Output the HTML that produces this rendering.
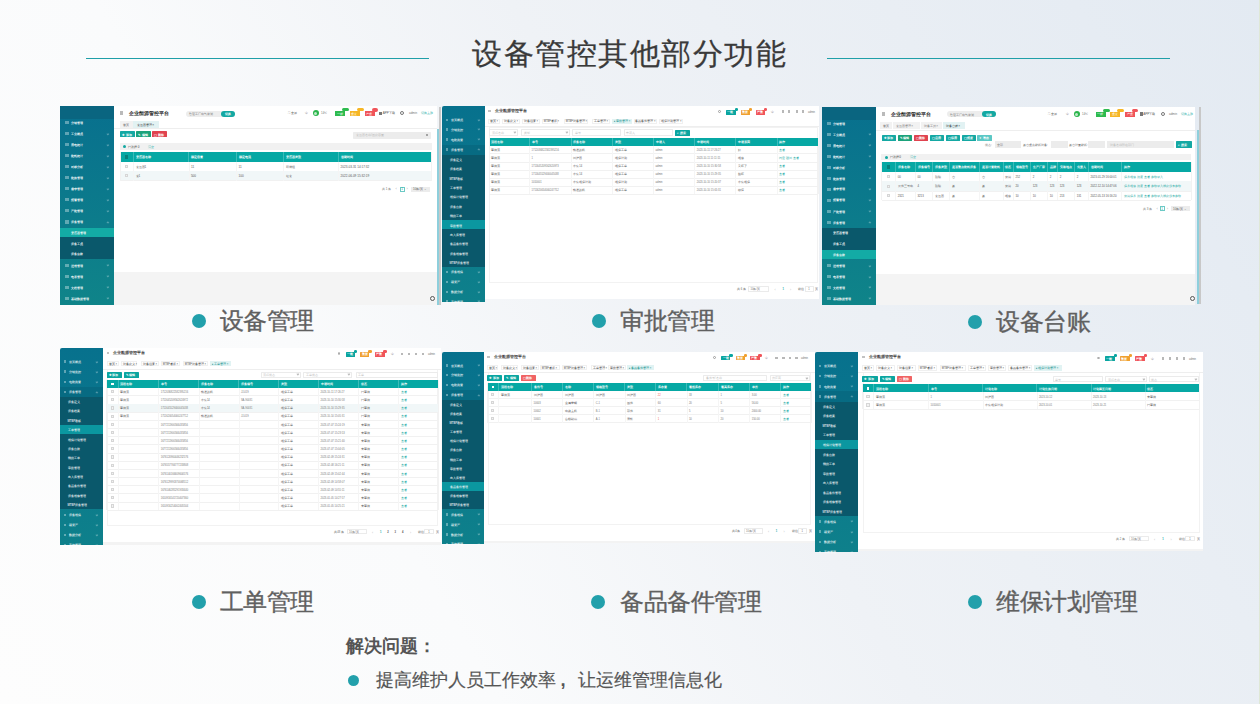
<!DOCTYPE html>
<html><head><meta charset="utf-8">
<style>
html,body{margin:0;padding:0;}
body{width:1260px;height:704px;overflow:hidden;position:relative;font-family:"Liberation Sans", sans-serif;
background:linear-gradient(60deg,#fdfdfd 0%,#fafbfc 30%,#eff2f6 55%,#e3eaf2 100%);}
div{position:absolute;box-sizing:border-box;}
.t{white-space:nowrap;}
</style></head><body>
<div style="left:1259.20px;top:0.00px;width:0.80px;height:704.00px;background:#dfe8d6;"></div>
<div class="t" style="left:472.00px;top:36.04px;font-size:29.6px;line-height:35.520px;color:#3a3a3a;font-weight:normal;letter-spacing:1.5px;-webkit-text-stroke:0.25px #3a3a3a;">设备管控其他部分功能</div>
<div style="left:86.00px;top:58.00px;width:343.00px;height:1.30px;background:#1f9fa8;"></div>
<div style="left:827.00px;top:58.00px;width:343.00px;height:1.30px;background:#1f9fa8;"></div>
<div style="left:191.90px;top:314.20px;width:14.00px;height:14.00px;background:#22a0ab;border-radius:50%;"></div>
<div class="t" style="left:219.50px;top:306.80px;font-size:24px;line-height:28.800px;color:#606060;font-weight:normal;letter-spacing:-0.45px;-webkit-text-stroke:0.35px #606060;">设备管理</div>
<div style="left:591.50px;top:314.20px;width:14.00px;height:14.00px;background:#22a0ab;border-radius:50%;"></div>
<div class="t" style="left:620.00px;top:306.80px;font-size:24px;line-height:28.800px;color:#606060;font-weight:normal;letter-spacing:-0.45px;-webkit-text-stroke:0.35px #606060;">审批管理</div>
<div style="left:968.30px;top:315.00px;width:14.00px;height:14.00px;background:#22a0ab;border-radius:50%;"></div>
<div class="t" style="left:996.00px;top:307.60px;font-size:24px;line-height:28.800px;color:#606060;font-weight:normal;letter-spacing:-0.45px;-webkit-text-stroke:0.35px #606060;">设备台账</div>
<div style="left:191.90px;top:595.00px;width:14.00px;height:14.00px;background:#22a0ab;border-radius:50%;"></div>
<div class="t" style="left:219.50px;top:587.60px;font-size:24px;line-height:28.800px;color:#606060;font-weight:normal;letter-spacing:-0.45px;-webkit-text-stroke:0.35px #606060;">工单管理</div>
<div style="left:591.20px;top:595.00px;width:14.00px;height:14.00px;background:#22a0ab;border-radius:50%;"></div>
<div class="t" style="left:620.00px;top:587.60px;font-size:24px;line-height:28.800px;color:#606060;font-weight:normal;letter-spacing:-0.45px;-webkit-text-stroke:0.35px #606060;">备品备件管理</div>
<div style="left:968.00px;top:595.00px;width:14.00px;height:14.00px;background:#22a0ab;border-radius:50%;"></div>
<div class="t" style="left:996.00px;top:587.60px;font-size:24px;line-height:28.800px;color:#606060;font-weight:normal;letter-spacing:-0.45px;-webkit-text-stroke:0.35px #606060;">维保计划管理</div>
<div class="t" style="left:345.50px;top:636.20px;font-size:18px;line-height:21.600px;color:#555;font-weight:bold;">解决问题：</div>
<div style="left:347.50px;top:675.00px;width:11.00px;height:11.00px;background:#22a0ab;border-radius:50%;"></div>
<div class="t" style="left:376.00px;top:669.02px;font-size:18.3px;line-height:21.960px;color:#555;font-weight:normal;-webkit-text-stroke:0.2px #555;">提高维护人员工作效率</div>
<div class="t" style="left:560.50px;top:669.02px;font-size:18.3px;line-height:21.960px;color:#555;font-weight:bold;">,</div>
<div class="t" style="left:577.50px;top:669.02px;font-size:18.3px;line-height:21.960px;color:#555;font-weight:normal;-webkit-text-stroke:0.2px #555;">让运维管理信息化</div>
<div style="left:114.00px;top:106.00px;width:323.00px;height:199.00px;background:#fff;"></div>
<div style="left:114.00px;top:271.70px;width:323.00px;height:33.30px;background:#f4f4f4;"></div>
<div style="left:60.00px;top:106.00px;width:54.00px;height:199.00px;background:linear-gradient(180deg,#08708e 0%,#0f8489 100%);"></div>
<div style="left:60.00px;top:106.00px;width:54.00px;height:13.30px;background:#0a6580;"></div>
<div style="left:60.00px;top:227.70px;width:54.00px;height:31.70px;background:#0a586b;"></div>
<div style="left:60.00px;top:227.70px;width:54.00px;height:9.50px;background:#13aba5;"></div>
<div style="left:65.40px;top:121.10px;width:3.20px;height:3.20px;background:rgba(255,255,255,0.35);"></div>
<div class="t" style="left:71.00px;top:122.00px;font-size:3.0px;line-height:3.600px;color:rgba(255,255,255,0.92);font-weight:bold;">分销管理</div>
<div style="left:65.40px;top:132.10px;width:3.20px;height:3.20px;background:rgba(255,255,255,0.35);"></div>
<div class="t" style="left:71.00px;top:133.00px;font-size:3.0px;line-height:3.600px;color:rgba(255,255,255,0.92);font-weight:bold;">工业概况</div>
<div style="left:107.10px;top:132.50px;width:1.80px;height:1.80px;background:transparent;border-right:0.5px solid rgba(255,255,255,0.3);border-bottom:0.5px solid rgba(255,255,255,0.3);transform:rotate(45deg);"></div>
<div style="left:65.40px;top:143.10px;width:3.20px;height:3.20px;background:rgba(255,255,255,0.35);"></div>
<div class="t" style="left:71.00px;top:144.00px;font-size:3.0px;line-height:3.600px;color:rgba(255,255,255,0.92);font-weight:bold;">用电统计</div>
<div style="left:107.10px;top:143.50px;width:1.80px;height:1.80px;background:transparent;border-right:0.5px solid rgba(255,255,255,0.3);border-bottom:0.5px solid rgba(255,255,255,0.3);transform:rotate(45deg);"></div>
<div style="left:65.40px;top:154.10px;width:3.20px;height:3.20px;background:rgba(255,255,255,0.35);"></div>
<div class="t" style="left:71.00px;top:155.00px;font-size:3.0px;line-height:3.600px;color:rgba(255,255,255,0.92);font-weight:bold;">能耗统计</div>
<div style="left:107.10px;top:154.50px;width:1.80px;height:1.80px;background:transparent;border-right:0.5px solid rgba(255,255,255,0.3);border-bottom:0.5px solid rgba(255,255,255,0.3);transform:rotate(45deg);"></div>
<div style="left:65.40px;top:165.10px;width:3.20px;height:3.20px;background:rgba(255,255,255,0.35);"></div>
<div class="t" style="left:71.00px;top:166.00px;font-size:3.0px;line-height:3.600px;color:rgba(255,255,255,0.92);font-weight:bold;">对标分析</div>
<div style="left:107.10px;top:165.50px;width:1.80px;height:1.80px;background:transparent;border-right:0.5px solid rgba(255,255,255,0.3);border-bottom:0.5px solid rgba(255,255,255,0.3);transform:rotate(45deg);"></div>
<div style="left:65.40px;top:176.10px;width:3.20px;height:3.20px;background:rgba(255,255,255,0.35);"></div>
<div class="t" style="left:71.00px;top:177.00px;font-size:3.0px;line-height:3.600px;color:rgba(255,255,255,0.92);font-weight:bold;">能效管理</div>
<div style="left:107.10px;top:176.50px;width:1.80px;height:1.80px;background:transparent;border-right:0.5px solid rgba(255,255,255,0.3);border-bottom:0.5px solid rgba(255,255,255,0.3);transform:rotate(45deg);"></div>
<div style="left:65.40px;top:187.10px;width:3.20px;height:3.20px;background:rgba(255,255,255,0.35);"></div>
<div class="t" style="left:71.00px;top:188.00px;font-size:3.0px;line-height:3.600px;color:rgba(255,255,255,0.92);font-weight:bold;">需求管理</div>
<div style="left:107.10px;top:187.50px;width:1.80px;height:1.80px;background:transparent;border-right:0.5px solid rgba(255,255,255,0.3);border-bottom:0.5px solid rgba(255,255,255,0.3);transform:rotate(45deg);"></div>
<div style="left:65.40px;top:198.10px;width:3.20px;height:3.20px;background:rgba(255,255,255,0.35);"></div>
<div class="t" style="left:71.00px;top:199.00px;font-size:3.0px;line-height:3.600px;color:rgba(255,255,255,0.92);font-weight:bold;">报警管理</div>
<div style="left:107.10px;top:198.50px;width:1.80px;height:1.80px;background:transparent;border-right:0.5px solid rgba(255,255,255,0.3);border-bottom:0.5px solid rgba(255,255,255,0.3);transform:rotate(45deg);"></div>
<div style="left:65.40px;top:209.10px;width:3.20px;height:3.20px;background:rgba(255,255,255,0.35);"></div>
<div class="t" style="left:71.00px;top:210.00px;font-size:3.0px;line-height:3.600px;color:rgba(255,255,255,0.92);font-weight:bold;">产能管理</div>
<div style="left:107.10px;top:209.50px;width:1.80px;height:1.80px;background:transparent;border-right:0.5px solid rgba(255,255,255,0.3);border-bottom:0.5px solid rgba(255,255,255,0.3);transform:rotate(45deg);"></div>
<div style="left:65.40px;top:220.40px;width:3.20px;height:3.20px;background:rgba(255,255,255,0.35);"></div>
<div class="t" style="left:71.00px;top:221.00px;font-size:3.0px;line-height:3.600px;color:rgba(255,255,255,0.92);font-weight:bold;">设备管理</div>
<div style="left:107.10px;top:221.60px;width:1.80px;height:1.80px;background:transparent;border-right:0.5px solid rgba(255,255,255,0.3);border-bottom:0.5px solid rgba(255,255,255,0.3);transform:rotate(-135deg);"></div>
<div class="t" style="left:70.50px;top:232.00px;font-size:3.0px;line-height:3.600px;color:rgba(255,255,255,0.92);font-weight:bold;">变压器管理</div>
<div class="t" style="left:70.50px;top:243.00px;font-size:3.0px;line-height:3.600px;color:rgba(255,255,255,0.92);font-weight:bold;">设备工况</div>
<div class="t" style="left:70.50px;top:253.00px;font-size:3.0px;line-height:3.600px;color:rgba(255,255,255,0.92);font-weight:bold;">设备台账</div>
<div style="left:65.40px;top:263.90px;width:3.20px;height:3.20px;background:rgba(255,255,255,0.35);"></div>
<div class="t" style="left:71.00px;top:265.00px;font-size:3.0px;line-height:3.600px;color:rgba(255,255,255,0.92);font-weight:bold;">运维管理</div>
<div style="left:107.10px;top:264.30px;width:1.80px;height:1.80px;background:transparent;border-right:0.5px solid rgba(255,255,255,0.3);border-bottom:0.5px solid rgba(255,255,255,0.3);transform:rotate(45deg);"></div>
<div style="left:65.40px;top:274.85px;width:3.20px;height:3.20px;background:rgba(255,255,255,0.35);"></div>
<div class="t" style="left:71.00px;top:276.00px;font-size:3.0px;line-height:3.600px;color:rgba(255,255,255,0.92);font-weight:bold;">电表管理</div>
<div style="left:107.10px;top:275.25px;width:1.80px;height:1.80px;background:transparent;border-right:0.5px solid rgba(255,255,255,0.3);border-bottom:0.5px solid rgba(255,255,255,0.3);transform:rotate(45deg);"></div>
<div style="left:65.40px;top:285.80px;width:3.20px;height:3.20px;background:rgba(255,255,255,0.35);"></div>
<div class="t" style="left:71.00px;top:287.00px;font-size:3.0px;line-height:3.600px;color:rgba(255,255,255,0.92);font-weight:bold;">文档管理</div>
<div style="left:107.10px;top:286.20px;width:1.80px;height:1.80px;background:transparent;border-right:0.5px solid rgba(255,255,255,0.3);border-bottom:0.5px solid rgba(255,255,255,0.3);transform:rotate(45deg);"></div>
<div style="left:65.40px;top:296.75px;width:3.20px;height:3.20px;background:rgba(255,255,255,0.35);"></div>
<div class="t" style="left:71.00px;top:298.00px;font-size:3.0px;line-height:3.600px;color:rgba(255,255,255,0.92);font-weight:bold;">基础数据管理</div>
<div style="left:107.10px;top:297.15px;width:1.80px;height:1.80px;background:transparent;border-right:0.5px solid rgba(255,255,255,0.3);border-bottom:0.5px solid rgba(255,255,255,0.3);transform:rotate(45deg);"></div>
<div style="left:119.75px;top:111.45px;width:3.50px;height:3.50px;background:#666;opacity:0.45;"></div>
<div class="t" style="left:129.20px;top:111.00px;font-size:4.7px;line-height:5.640px;color:#222;font-weight:bold;">企业能源管控平台</div>
<div style="left:186.00px;top:110.60px;width:49.00px;height:6.20px;background:#ededed;border-radius:3px;"></div>
<div class="t" style="left:189.00px;top:113.00px;font-size:3px;line-height:3.600px;color:#777;font-weight:normal;">智慧工厂电气监测</div>
<div style="left:220.50px;top:110.60px;width:14.50px;height:6.20px;background:#13a8a2;border-radius:3px;"></div>
<div class="t" style="left:225.00px;top:113.00px;font-size:3px;line-height:3.600px;color:#fff;font-weight:bold;">切换</div>
<div class="t" style="left:287.80px;top:112.00px;font-size:3px;line-height:3.600px;color:#555;font-weight:normal;">⛶ 全屏</div>
<div class="t" style="left:304.50px;top:112.00px;font-size:3.2px;line-height:3.840px;color:#777;font-weight:normal;">中</div>
<div style="left:312.90px;top:110.10px;width:6.00px;height:6.00px;background:#2ab54b;border-radius:50%;"></div>
<div style="left:314.40px;top:111.60px;width:3.00px;height:3.00px;background:#bfe9c8;border-radius:50%;"></div>
<div class="t" style="left:321.00px;top:112.00px;font-size:3px;line-height:3.600px;color:#777;font-weight:normal;">14℃</div>
<div style="left:335.00px;top:110.80px;width:10.00px;height:5.20px;background:#2dbb4f;"></div>
<div class="t" style="left:336.50px;top:113.00px;font-size:3px;line-height:3.600px;color:#fff;font-weight:normal;">一般</div>
<div style="left:342.00px;top:108.30px;width:7.00px;height:3.20px;background:#2dbb4f;border-radius:2px;"></div>
<div style="left:349.80px;top:110.80px;width:10.20px;height:5.20px;background:#f6b625;"></div>
<div class="t" style="left:351.00px;top:113.00px;font-size:3px;line-height:3.600px;color:#fff;font-weight:normal;">重要</div>
<div style="left:357.00px;top:108.30px;width:7.00px;height:3.20px;background:#f6b625;border-radius:2px;"></div>
<div style="left:364.50px;top:110.80px;width:10.10px;height:5.20px;background:#f0545a;"></div>
<div class="t" style="left:366.00px;top:113.00px;font-size:3px;line-height:3.600px;color:#fff;font-weight:normal;">严重</div>
<div style="left:372.00px;top:108.00px;width:5.50px;height:3.50px;background:#f0545a;border-radius:2px;"></div>
<div style="left:379.40px;top:111.50px;width:2.80px;height:3.50px;background:#777;"></div>
<div class="t" style="left:382.80px;top:112.00px;font-size:3px;line-height:3.600px;color:#555;font-weight:normal;">APP下载</div>
<div style="left:400.20px;top:111.20px;width:4.00px;height:4.00px;background:transparent;border:0.6px solid #777;border-radius:50%;"></div>
<div class="t" style="left:409.00px;top:112.00px;font-size:3px;line-height:3.600px;color:#777;font-weight:normal;">admin</div>
<div class="t" style="left:420.60px;top:112.00px;font-size:3px;line-height:3.600px;color:#27b0aa;font-weight:normal;">切换主题</div>
<div style="left:120.00px;top:121.30px;width:13.00px;height:7.10px;background:#f2f2f2;"></div>
<div class="t" style="left:122.50px;top:124.00px;font-size:3px;line-height:3.600px;color:#666;font-weight:normal;">首页</div>
<div style="left:133.00px;top:121.30px;width:26.00px;height:7.10px;background:#e2f2f3;"></div>
<div class="t" style="left:136.50px;top:124.00px;font-size:3px;line-height:3.600px;color:#333;font-weight:normal;">变压器管理 ×</div>
<div style="left:114.00px;top:128.40px;width:323.00px;height:0.50px;background:#eeeeee;"></div>
<div style="left:120.10px;top:131.40px;width:14.80px;height:6.00px;background:#14a8a3;border-radius:0.6px;"></div>
<div class="t" style="left:122.10px;top:134.00px;font-size:3px;line-height:3.600px;color:#fff;font-weight:bold;">✚ 添加</div>
<div style="left:136.10px;top:131.40px;width:14.70px;height:6.00px;background:#1ba27a;border-radius:0.6px;"></div>
<div class="t" style="left:138.10px;top:134.00px;font-size:3px;line-height:3.600px;color:#fff;font-weight:bold;">✎ 编辑</div>
<div style="left:152.10px;top:131.40px;width:14.70px;height:6.00px;background:#e0434f;border-radius:0.6px;"></div>
<div class="t" style="left:154.10px;top:134.00px;font-size:3px;line-height:3.600px;color:#fff;font-weight:bold;">▢ 删除</div>
<div style="left:353.00px;top:131.50px;width:78.00px;height:7.00px;background:#ececec;border-radius:0.8px;"></div>
<div class="t" style="left:356.00px;top:134.00px;font-size:3px;line-height:3.600px;color:#bbb;font-weight:normal;">变压器名称/固定容量</div>
<div style="left:426.00px;top:133.60px;width:2.40px;height:2.40px;background:transparent;border:0.5px solid rgba(0,0,0,0.45);border-radius:50%;"></div>
<div style="left:120.00px;top:143.30px;width:311.50px;height:6.60px;background:#f1f1f1;"></div>
<div style="left:123.30px;top:145.10px;width:3.20px;height:3.20px;background:#13a8a2;border-radius:50%;"></div>
<div class="t" style="left:128.00px;top:146.00px;font-size:3px;line-height:3.600px;color:#444;font-weight:normal;">已选择 0</div>
<div class="t" style="left:148.00px;top:146.00px;font-size:3px;line-height:3.600px;color:#35b5b0;font-weight:normal;">清空</div>
<div style="left:120.00px;top:152.10px;width:311.50px;height:9.70px;background:#06a8a4;"></div>
<div style="left:133.05px;top:152.10px;width:0.50px;height:9.70px;background:rgba(255,255,255,0.22);"></div>
<div style="left:188.45px;top:152.10px;width:0.50px;height:9.70px;background:rgba(255,255,255,0.22);"></div>
<div style="left:236.05px;top:152.10px;width:0.50px;height:9.70px;background:rgba(255,255,255,0.22);"></div>
<div style="left:283.05px;top:152.10px;width:0.50px;height:9.70px;background:rgba(255,255,255,0.22);"></div>
<div style="left:338.05px;top:152.10px;width:0.50px;height:9.70px;background:rgba(255,255,255,0.22);"></div>
<div style="left:124.95px;top:155.25px;width:3.40px;height:3.40px;background:#08807c;border:0.5px solid #08807c;"></div>
<div class="t" style="left:135.50px;top:156.00px;font-size:3px;line-height:3.600px;color:#fff;font-weight:bold;">变压器名称</div>
<div class="t" style="left:190.90px;top:156.00px;font-size:3px;line-height:3.600px;color:#fff;font-weight:bold;">额定容量</div>
<div class="t" style="left:238.50px;top:156.00px;font-size:3px;line-height:3.600px;color:#fff;font-weight:bold;">额定电流</div>
<div class="t" style="left:285.50px;top:156.00px;font-size:3px;line-height:3.600px;color:#fff;font-weight:bold;">变压器类型</div>
<div class="t" style="left:340.50px;top:156.00px;font-size:3px;line-height:3.600px;color:#fff;font-weight:bold;">创建时间</div>
<div style="left:120.00px;top:170.85px;width:311.50px;height:0.45px;background:#f1f1f1;"></div>
<div style="left:133.10px;top:161.80px;width:0.40px;height:9.40px;background:#f5f5f5;"></div>
<div style="left:188.50px;top:161.80px;width:0.40px;height:9.40px;background:#f5f5f5;"></div>
<div style="left:236.10px;top:161.80px;width:0.40px;height:9.40px;background:#f5f5f5;"></div>
<div style="left:283.10px;top:161.80px;width:0.40px;height:9.40px;background:#f5f5f5;"></div>
<div style="left:338.10px;top:161.80px;width:0.40px;height:9.40px;background:#f5f5f5;"></div>
<div style="left:125.05px;top:164.90px;width:3.20px;height:3.20px;background:#f2f2f2;border:0.5px solid #d6d6d6;"></div>
<div class="t" style="left:135.50px;top:166.00px;font-size:3.1px;line-height:3.720px;color:#555;font-weight:normal;">变压器1</div>
<div class="t" style="left:190.90px;top:166.00px;font-size:3.1px;line-height:3.720px;color:#555;font-weight:normal;">11</div>
<div class="t" style="left:238.50px;top:166.00px;font-size:3.1px;line-height:3.720px;color:#555;font-weight:normal;">11</div>
<div class="t" style="left:285.50px;top:166.00px;font-size:3.1px;line-height:3.720px;color:#555;font-weight:normal;">双绕组</div>
<div class="t" style="left:340.50px;top:166.00px;font-size:3.1px;line-height:3.720px;color:#555;font-weight:normal;">2023-03-31 14:17:32</div>
<div style="left:120.00px;top:171.20px;width:311.50px;height:9.40px;background:#f1f7f8;"></div>
<div style="left:120.00px;top:180.25px;width:311.50px;height:0.45px;background:#f1f1f1;"></div>
<div style="left:133.10px;top:171.20px;width:0.40px;height:9.40px;background:#f5f5f5;"></div>
<div style="left:188.50px;top:171.20px;width:0.40px;height:9.40px;background:#f5f5f5;"></div>
<div style="left:236.10px;top:171.20px;width:0.40px;height:9.40px;background:#f5f5f5;"></div>
<div style="left:283.10px;top:171.20px;width:0.40px;height:9.40px;background:#f5f5f5;"></div>
<div style="left:338.10px;top:171.20px;width:0.40px;height:9.40px;background:#f5f5f5;"></div>
<div style="left:125.05px;top:174.30px;width:3.20px;height:3.20px;background:#f2f2f2;border:0.5px solid #d6d6d6;"></div>
<div class="t" style="left:135.50px;top:175.00px;font-size:3.1px;line-height:3.720px;color:#555;font-weight:normal;">变1</div>
<div class="t" style="left:190.90px;top:175.00px;font-size:3.1px;line-height:3.720px;color:#555;font-weight:normal;">500</div>
<div class="t" style="left:238.50px;top:175.00px;font-size:3.1px;line-height:3.720px;color:#555;font-weight:normal;">100</div>
<div class="t" style="left:285.50px;top:175.00px;font-size:3.1px;line-height:3.720px;color:#555;font-weight:normal;">箱变</div>
<div class="t" style="left:340.50px;top:175.00px;font-size:3.1px;line-height:3.720px;color:#555;font-weight:normal;">2022-06-09 15:32:19</div>
<div style="left:119.80px;top:152.10px;width:0.45px;height:28.50px;background:#f2f2f2;"></div>
<div style="left:431.25px;top:152.10px;width:0.45px;height:28.50px;background:#f2f2f2;"></div>
<div class="t" style="left:382.00px;top:188.00px;font-size:3px;line-height:3.600px;color:#777;font-weight:normal;">共 1 条</div>
<div class="t" style="left:395.50px;top:187.00px;font-size:4px;line-height:4.800px;color:#aaa;font-weight:normal;">‹</div>
<div style="left:399.50px;top:186.50px;width:5.50px;height:5.00px;background:#fff;border:0.5px solid #6cc9c5;"></div>
<div class="t" style="left:401.30px;top:188.00px;font-size:3px;line-height:3.600px;color:#13a8a2;font-weight:normal;">1</div>
<div class="t" style="left:406.50px;top:187.00px;font-size:4px;line-height:4.800px;color:#aaa;font-weight:normal;">›</div>
<div style="left:411.00px;top:186.50px;width:19.00px;height:5.00px;background:#ececec;"></div>
<div class="t" style="left:413.00px;top:188.00px;font-size:3px;line-height:3.600px;color:#666;font-weight:normal;">10条/页 ⌄</div>
<div style="left:429.50px;top:295.70px;width:5.00px;height:5.00px;background:transparent;border:0.7px solid #555;border-radius:50%;"></div>
<div style="left:437.00px;top:128.90px;width:2.00px;height:176.10px;background:#8ecfdc;"></div>
<div style="left:439.00px;top:106.80px;width:2.00px;height:198.20px;background:#c8c8c8;"></div>
<div style="left:484.50px;top:106.00px;width:334.00px;height:193.00px;background:#fff;"></div>
<div style="left:442.00px;top:106.00px;width:42.50px;height:195.60px;background:linear-gradient(180deg,#07718d 0%,#0e808b 100%);border-top-left-radius:2px;"></div>
<div style="left:442.00px;top:154.80px;width:42.50px;height:111.90px;background:#0a586b;"></div>
<div style="left:442.00px;top:144.70px;width:42.50px;height:10.10px;background:rgba(0,40,60,0.12);"></div>
<div style="left:442.00px;top:220.20px;width:42.50px;height:9.00px;background:#0b97a0;"></div>
<div style="left:445.70px;top:118.50px;width:2.60px;height:2.60px;background:rgba(255,255,255,0.35);"></div>
<div class="t" style="left:451.00px;top:119.00px;font-size:2.75px;line-height:3.300px;color:rgba(255,255,255,0.8);font-weight:bold;">首页概况</div>
<div style="left:478.10px;top:118.60px;width:1.80px;height:1.80px;background:transparent;border-right:0.5px solid rgba(255,255,255,0.3);border-bottom:0.5px solid rgba(255,255,255,0.3);transform:rotate(45deg);"></div>
<div style="left:445.70px;top:128.20px;width:2.60px;height:2.60px;background:rgba(255,255,255,0.35);"></div>
<div class="t" style="left:451.00px;top:129.00px;font-size:2.75px;line-height:3.300px;color:rgba(255,255,255,0.8);font-weight:bold;">分销监控</div>
<div style="left:478.10px;top:128.30px;width:1.80px;height:1.80px;background:transparent;border-right:0.5px solid rgba(255,255,255,0.3);border-bottom:0.5px solid rgba(255,255,255,0.3);transform:rotate(45deg);"></div>
<div style="left:445.70px;top:138.20px;width:2.60px;height:2.60px;background:rgba(255,255,255,0.35);"></div>
<div class="t" style="left:451.00px;top:139.00px;font-size:2.75px;line-height:3.300px;color:rgba(255,255,255,0.8);font-weight:bold;">电能质量</div>
<div style="left:478.10px;top:138.30px;width:1.80px;height:1.80px;background:transparent;border-right:0.5px solid rgba(255,255,255,0.3);border-bottom:0.5px solid rgba(255,255,255,0.3);transform:rotate(45deg);"></div>
<div style="left:445.70px;top:148.40px;width:2.60px;height:2.60px;background:rgba(255,255,255,0.35);"></div>
<div class="t" style="left:451.00px;top:149.00px;font-size:2.75px;line-height:3.300px;color:rgba(255,255,255,0.8);font-weight:bold;">设备管理</div>
<div style="left:478.10px;top:149.30px;width:1.80px;height:1.80px;background:transparent;border-right:0.5px solid rgba(255,255,255,0.3);border-bottom:0.5px solid rgba(255,255,255,0.3);transform:rotate(-135deg);"></div>
<div class="t" style="left:449.50px;top:159.00px;font-size:2.75px;line-height:3.300px;color:rgba(255,255,255,0.8);font-weight:bold;">设备定义</div>
<div class="t" style="left:449.50px;top:168.00px;font-size:2.75px;line-height:3.300px;color:rgba(255,255,255,0.8);font-weight:bold;">设备档案</div>
<div class="t" style="left:449.50px;top:178.00px;font-size:2.75px;line-height:3.300px;color:rgba(255,255,255,0.8);font-weight:bold;">MTBF看板</div>
<div class="t" style="left:449.50px;top:187.00px;font-size:2.75px;line-height:3.300px;color:rgba(255,255,255,0.8);font-weight:bold;">工单管理</div>
<div class="t" style="left:449.50px;top:196.00px;font-size:2.75px;line-height:3.300px;color:rgba(255,255,255,0.8);font-weight:bold;">维保计划管理</div>
<div class="t" style="left:449.50px;top:206.00px;font-size:2.75px;line-height:3.300px;color:rgba(255,255,255,0.8);font-weight:bold;">设备台账</div>
<div class="t" style="left:449.50px;top:215.00px;font-size:2.75px;line-height:3.300px;color:rgba(255,255,255,0.8);font-weight:bold;">我的工单</div>
<div class="t" style="left:449.50px;top:225.00px;font-size:2.75px;line-height:3.300px;color:rgba(255,255,255,0.8);font-weight:bold;">审批管理</div>
<div class="t" style="left:449.50px;top:234.00px;font-size:2.75px;line-height:3.300px;color:rgba(255,255,255,0.8);font-weight:bold;">出入库管理</div>
<div class="t" style="left:449.50px;top:243.00px;font-size:2.75px;line-height:3.300px;color:rgba(255,255,255,0.8);font-weight:bold;">备品备件管理</div>
<div class="t" style="left:449.50px;top:253.00px;font-size:2.75px;line-height:3.300px;color:rgba(255,255,255,0.8);font-weight:bold;">设备维修管理</div>
<div class="t" style="left:449.50px;top:262.00px;font-size:2.75px;line-height:3.300px;color:rgba(255,255,255,0.8);font-weight:bold;">MTBF设备管理</div>
<div style="left:445.70px;top:270.70px;width:2.60px;height:2.60px;background:rgba(255,255,255,0.35);"></div>
<div class="t" style="left:451.00px;top:271.00px;font-size:2.75px;line-height:3.300px;color:rgba(255,255,255,0.8);font-weight:bold;">设备维保</div>
<div style="left:478.10px;top:270.80px;width:1.80px;height:1.80px;background:transparent;border-right:0.5px solid rgba(255,255,255,0.3);border-bottom:0.5px solid rgba(255,255,255,0.3);transform:rotate(45deg);"></div>
<div style="left:445.70px;top:280.90px;width:2.60px;height:2.60px;background:rgba(255,255,255,0.35);"></div>
<div class="t" style="left:451.00px;top:281.00px;font-size:2.75px;line-height:3.300px;color:rgba(255,255,255,0.8);font-weight:bold;">碳资产</div>
<div style="left:478.10px;top:281.00px;width:1.80px;height:1.80px;background:transparent;border-right:0.5px solid rgba(255,255,255,0.3);border-bottom:0.5px solid rgba(255,255,255,0.3);transform:rotate(45deg);"></div>
<div style="left:445.70px;top:290.90px;width:2.60px;height:2.60px;background:rgba(255,255,255,0.35);"></div>
<div class="t" style="left:451.00px;top:291.00px;font-size:2.75px;line-height:3.300px;color:rgba(255,255,255,0.8);font-weight:bold;">数据分析</div>
<div style="left:478.10px;top:291.00px;width:1.80px;height:1.80px;background:transparent;border-right:0.5px solid rgba(255,255,255,0.3);border-bottom:0.5px solid rgba(255,255,255,0.3);transform:rotate(45deg);"></div>
<div style="left:445.70px;top:300.30px;width:2.60px;height:2.60px;background:rgba(255,255,255,0.35);"></div>
<div class="t" style="left:451.00px;top:301.00px;font-size:2.75px;line-height:3.300px;color:rgba(255,255,255,0.8);font-weight:bold;">系统管理</div>
<div style="left:478.10px;top:300.40px;width:1.80px;height:1.80px;background:transparent;border-right:0.5px solid rgba(255,255,255,0.3);border-bottom:0.5px solid rgba(255,255,255,0.3);transform:rotate(45deg);"></div>
<div style="left:488.20px;top:109.60px;width:2.80px;height:2.80px;background:#777;opacity:0.45;"></div>
<div class="t" style="left:495.00px;top:109.00px;font-size:3.8px;line-height:4.560px;color:#333;font-weight:bold;">企业能源管控平台</div>
<div style="left:718.30px;top:109.90px;width:2.80px;height:2.80px;background:transparent;border:0.5px solid rgba(0,0,0,0.3);border-radius:50%;"></div>
<div style="left:726.00px;top:109.80px;width:9.90px;height:4.80px;background:#0aa5a0;border-radius:0.5px;"></div>
<div class="t" style="left:727.40px;top:111.00px;font-size:2.879999999999998px;line-height:3.456px;color:#fff;font-weight:bold;">一般</div>
<div style="left:734.70px;top:108.00px;width:3.60px;height:2.70px;background:#0aa5a0;border-radius:1.3px;"></div>
<div style="left:741.00px;top:109.80px;width:9.00px;height:4.80px;background:#f0a030;border-radius:0.5px;"></div>
<div class="t" style="left:742.40px;top:111.00px;font-size:2.879999999999998px;line-height:3.456px;color:#fff;font-weight:bold;">重要</div>
<div style="left:748.80px;top:108.00px;width:3.60px;height:2.70px;background:#f0a030;border-radius:1.3px;"></div>
<div style="left:755.70px;top:109.80px;width:9.10px;height:4.80px;background:#f0545a;border-radius:0.5px;"></div>
<div class="t" style="left:757.10px;top:111.00px;font-size:2.879999999999998px;line-height:3.456px;color:#fff;font-weight:bold;">严重</div>
<div style="left:763.60px;top:108.00px;width:3.60px;height:2.70px;background:#f0545a;border-radius:1.3px;"></div>
<div class="t" style="left:770.80px;top:111.00px;font-size:2.6px;line-height:3.120px;color:#777;font-weight:normal;">中</div>
<div style="left:781.70px;top:110.20px;width:2.60px;height:2.60px;background:rgba(0,0,0,0.28);"></div>
<div style="left:787.70px;top:110.20px;width:2.60px;height:2.60px;background:rgba(0,0,0,0.28);"></div>
<div style="left:795.70px;top:110.20px;width:2.60px;height:2.60px;background:rgba(0,0,0,0.28);"></div>
<div style="left:801.70px;top:110.20px;width:2.60px;height:2.60px;background:rgba(0,0,0,0.28);"></div>
<div class="t" style="left:808.00px;top:111.00px;font-size:2.6px;line-height:3.120px;color:#777;font-weight:normal;">admin</div>
<div style="left:488.00px;top:118.70px;width:12.00px;height:5.10px;background:#fff;border:0.5px solid #f0f0f0;"></div>
<div class="t" style="left:489.80px;top:120.00px;font-size:2.6px;line-height:3.120px;color:#444;font-weight:normal;">首页 ×</div>
<div style="left:502.00px;top:118.70px;width:18.00px;height:5.10px;background:#fff;border:0.5px solid #f0f0f0;"></div>
<div class="t" style="left:503.80px;top:120.00px;font-size:2.6px;line-height:3.120px;color:#444;font-weight:normal;">设备定义 ×</div>
<div style="left:522.00px;top:118.70px;width:18.00px;height:5.10px;background:#fff;border:0.5px solid #f0f0f0;"></div>
<div class="t" style="left:523.80px;top:120.00px;font-size:2.6px;line-height:3.120px;color:#444;font-weight:normal;">设备档案 ×</div>
<div style="left:542.00px;top:118.70px;width:16.00px;height:5.10px;background:#fff;border:0.5px solid #f0f0f0;"></div>
<div class="t" style="left:543.80px;top:120.00px;font-size:2.6px;line-height:3.120px;color:#444;font-weight:normal;">MTBF看板 ×</div>
<div style="left:564.00px;top:118.70px;width:24.00px;height:5.10px;background:#fff;border:0.5px solid #f0f0f0;"></div>
<div class="t" style="left:565.80px;top:120.00px;font-size:2.6px;line-height:3.120px;color:#444;font-weight:normal;">MTBF设备管理 ×</div>
<div style="left:592.00px;top:118.70px;width:18.00px;height:5.10px;background:#fff;border:0.5px solid #f0f0f0;"></div>
<div class="t" style="left:593.80px;top:120.00px;font-size:2.6px;line-height:3.120px;color:#444;font-weight:normal;">工单管理 ×</div>
<div style="left:612.00px;top:118.70px;width:20.00px;height:5.10px;background:#e1f3f3;"></div>
<div class="t" style="left:613.80px;top:120.00px;font-size:2.6px;line-height:3.120px;color:#0a8c88;font-weight:normal;">● 审批管理 ×</div>
<div style="left:633.50px;top:118.70px;width:23.80px;height:5.10px;background:#fff;border:0.5px solid #f0f0f0;"></div>
<div class="t" style="left:635.30px;top:120.00px;font-size:2.6px;line-height:3.120px;color:#444;font-weight:normal;">备品备件管理 ×</div>
<div style="left:659.40px;top:118.70px;width:24.10px;height:5.10px;background:#fff;border:0.5px solid #f0f0f0;"></div>
<div class="t" style="left:661.20px;top:120.00px;font-size:2.6px;line-height:3.120px;color:#444;font-weight:normal;">维保计划管理 ×</div>
<div style="left:484.50px;top:125.80px;width:334.00px;height:0.50px;background:#eeeeee;"></div>
<div style="left:488.50px;top:127.30px;width:329.80px;height:156.00px;background:#fff;border:0.5px solid #f2f2f2;"></div>
<div style="left:489.00px;top:129.40px;width:29.00px;height:6.30px;background:#fff;border:0.5px solid #ebebeb;border-radius:0.6px;"></div>
<div class="t" style="left:491.50px;top:132.00px;font-size:2.6px;line-height:3.120px;color:#bbb;font-weight:normal;">流程名称</div>
<div style="left:514.10px;top:131.05px;width:1.80px;height:1.80px;background:transparent;border-right:0.5px solid #bbb;border-bottom:0.5px solid #bbb;transform:rotate(45deg);"></div>
<div style="left:521.00px;top:129.40px;width:49.00px;height:6.30px;background:#fff;border:0.5px solid #ebebeb;border-radius:0.6px;"></div>
<div class="t" style="left:523.50px;top:132.00px;font-size:2.6px;line-height:3.120px;color:#bbb;font-weight:normal;">类型</div>
<div style="left:566.10px;top:131.05px;width:1.80px;height:1.80px;background:transparent;border-right:0.5px solid #bbb;border-bottom:0.5px solid #bbb;transform:rotate(45deg);"></div>
<div style="left:572.00px;top:129.40px;width:49.00px;height:6.30px;background:#fff;border:0.5px solid #ebebeb;border-radius:0.6px;"></div>
<div class="t" style="left:574.50px;top:132.00px;font-size:2.6px;line-height:3.120px;color:#bbb;font-weight:normal;">单号</div>
<div style="left:623.50px;top:129.40px;width:49.20px;height:6.30px;background:#fff;border:0.5px solid #ebebeb;border-radius:0.6px;"></div>
<div class="t" style="left:626.00px;top:132.00px;font-size:2.6px;line-height:3.120px;color:#bbb;font-weight:normal;">申请人</div>
<div style="left:675.00px;top:129.70px;width:15.00px;height:6.00px;background:#0aa5a0;border-radius:0.6px;"></div>
<div class="t" style="left:677.00px;top:132.00px;font-size:2.8px;line-height:3.360px;color:#fff;font-weight:bold;">⌕ 搜索</div>
<div style="left:488.80px;top:137.80px;width:329.20px;height:7.90px;background:#06a8a4;"></div>
<div style="left:529.05px;top:137.80px;width:0.50px;height:7.90px;background:rgba(255,255,255,0.22);"></div>
<div style="left:570.75px;top:137.80px;width:0.50px;height:7.90px;background:rgba(255,255,255,0.22);"></div>
<div style="left:612.35px;top:137.80px;width:0.50px;height:7.90px;background:rgba(255,255,255,0.22);"></div>
<div style="left:653.05px;top:137.80px;width:0.50px;height:7.90px;background:rgba(255,255,255,0.22);"></div>
<div style="left:694.35px;top:137.80px;width:0.50px;height:7.90px;background:rgba(255,255,255,0.22);"></div>
<div style="left:735.15px;top:137.80px;width:0.50px;height:7.90px;background:rgba(255,255,255,0.22);"></div>
<div style="left:776.75px;top:137.80px;width:0.50px;height:7.90px;background:rgba(255,255,255,0.22);"></div>
<div class="t" style="left:491.00px;top:141.00px;font-size:2.6px;line-height:3.120px;color:#fff;font-weight:bold;">流程名称</div>
<div class="t" style="left:531.50px;top:141.00px;font-size:2.6px;line-height:3.120px;color:#fff;font-weight:bold;">单号</div>
<div class="t" style="left:573.20px;top:141.00px;font-size:2.6px;line-height:3.120px;color:#fff;font-weight:bold;">设备名称</div>
<div class="t" style="left:614.80px;top:141.00px;font-size:2.6px;line-height:3.120px;color:#fff;font-weight:bold;">类型</div>
<div class="t" style="left:655.50px;top:141.00px;font-size:2.6px;line-height:3.120px;color:#fff;font-weight:bold;">申请人</div>
<div class="t" style="left:696.80px;top:141.00px;font-size:2.6px;line-height:3.120px;color:#fff;font-weight:bold;">申请时间</div>
<div class="t" style="left:737.60px;top:141.00px;font-size:2.6px;line-height:3.120px;color:#fff;font-weight:bold;">申请原因</div>
<div class="t" style="left:779.20px;top:141.00px;font-size:2.6px;line-height:3.120px;color:#fff;font-weight:bold;">操作</div>
<div style="left:488.80px;top:153.45px;width:329.20px;height:0.45px;background:#f1f1f1;"></div>
<div style="left:529.10px;top:145.70px;width:0.40px;height:8.10px;background:#f5f5f5;"></div>
<div style="left:570.80px;top:145.70px;width:0.40px;height:8.10px;background:#f5f5f5;"></div>
<div style="left:612.40px;top:145.70px;width:0.40px;height:8.10px;background:#f5f5f5;"></div>
<div style="left:653.10px;top:145.70px;width:0.40px;height:8.10px;background:#f5f5f5;"></div>
<div style="left:694.40px;top:145.70px;width:0.40px;height:8.10px;background:#f5f5f5;"></div>
<div style="left:735.20px;top:145.70px;width:0.40px;height:8.10px;background:#f5f5f5;"></div>
<div style="left:776.80px;top:145.70px;width:0.40px;height:8.10px;background:#f5f5f5;"></div>
<div class="t" style="left:491.00px;top:149.00px;font-size:2.6px;line-height:3.120px;color:#444;font-weight:normal;">审核流</div>
<div class="t" style="left:531.50px;top:149.00px;font-size:2.6px;line-height:3.120px;color:#777;font-weight:normal;">1712036822582395216</div>
<div class="t" style="left:573.20px;top:149.00px;font-size:2.6px;line-height:3.120px;color:#555;font-weight:normal;">輸送設机</div>
<div class="t" style="left:614.80px;top:149.00px;font-size:2.6px;line-height:3.120px;color:#555;font-weight:normal;">维保工单</div>
<div class="t" style="left:655.50px;top:149.00px;font-size:2.6px;line-height:3.120px;color:#777;font-weight:normal;">admin</div>
<div class="t" style="left:696.80px;top:149.00px;font-size:2.6px;line-height:3.120px;color:#777;font-weight:normal;">2023-10-11 17:26:27</div>
<div class="t" style="left:737.60px;top:149.00px;font-size:2.6px;line-height:3.120px;color:#555;font-weight:normal;">好</div>
<div class="t" style="left:779.20px;top:149.00px;font-size:2.6px;line-height:3.120px;color:#1aa9a3;font-weight:normal;">查看</div>
<div style="left:488.80px;top:161.55px;width:329.20px;height:0.45px;background:#f1f1f1;"></div>
<div style="left:529.10px;top:153.80px;width:0.40px;height:8.10px;background:#f5f5f5;"></div>
<div style="left:570.80px;top:153.80px;width:0.40px;height:8.10px;background:#f5f5f5;"></div>
<div style="left:612.40px;top:153.80px;width:0.40px;height:8.10px;background:#f5f5f5;"></div>
<div style="left:653.10px;top:153.80px;width:0.40px;height:8.10px;background:#f5f5f5;"></div>
<div style="left:694.40px;top:153.80px;width:0.40px;height:8.10px;background:#f5f5f5;"></div>
<div style="left:735.20px;top:153.80px;width:0.40px;height:8.10px;background:#f5f5f5;"></div>
<div style="left:776.80px;top:153.80px;width:0.40px;height:8.10px;background:#f5f5f5;"></div>
<div class="t" style="left:491.00px;top:157.00px;font-size:2.6px;line-height:3.120px;color:#444;font-weight:normal;">审核流</div>
<div class="t" style="left:531.50px;top:157.00px;font-size:2.6px;line-height:3.120px;color:#777;font-weight:normal;">1</div>
<div class="t" style="left:573.20px;top:157.00px;font-size:2.6px;line-height:3.120px;color:#555;font-weight:normal;">回护器</div>
<div class="t" style="left:614.80px;top:157.00px;font-size:2.6px;line-height:3.120px;color:#555;font-weight:normal;">维保计划</div>
<div class="t" style="left:655.50px;top:157.00px;font-size:2.6px;line-height:3.120px;color:#777;font-weight:normal;">admin</div>
<div class="t" style="left:696.80px;top:157.00px;font-size:2.6px;line-height:3.120px;color:#777;font-weight:normal;">2023-10-11 11:11:15</div>
<div class="t" style="left:737.60px;top:157.00px;font-size:2.6px;line-height:3.120px;color:#555;font-weight:normal;">维修</div>
<div class="t" style="left:779.20px;top:157.00px;font-size:2.6px;line-height:3.120px;color:#1aa9a3;font-weight:normal;">查看</div>
<div style="left:488.80px;top:169.65px;width:329.20px;height:0.45px;background:#f1f1f1;"></div>
<div style="left:529.10px;top:161.90px;width:0.40px;height:8.10px;background:#f5f5f5;"></div>
<div style="left:570.80px;top:161.90px;width:0.40px;height:8.10px;background:#f5f5f5;"></div>
<div style="left:612.40px;top:161.90px;width:0.40px;height:8.10px;background:#f5f5f5;"></div>
<div style="left:653.10px;top:161.90px;width:0.40px;height:8.10px;background:#f5f5f5;"></div>
<div style="left:694.40px;top:161.90px;width:0.40px;height:8.10px;background:#f5f5f5;"></div>
<div style="left:735.20px;top:161.90px;width:0.40px;height:8.10px;background:#f5f5f5;"></div>
<div style="left:776.80px;top:161.90px;width:0.40px;height:8.10px;background:#f5f5f5;"></div>
<div class="t" style="left:491.00px;top:165.00px;font-size:2.6px;line-height:3.120px;color:#444;font-weight:normal;">审核流</div>
<div class="t" style="left:531.50px;top:165.00px;font-size:2.6px;line-height:3.120px;color:#777;font-weight:normal;">1711645209562620973</div>
<div class="t" style="left:573.20px;top:165.00px;font-size:2.6px;line-height:3.120px;color:#555;font-weight:normal;">水泵14</div>
<div class="t" style="left:614.80px;top:165.00px;font-size:2.6px;line-height:3.120px;color:#555;font-weight:normal;">维保工单</div>
<div class="t" style="left:655.50px;top:165.00px;font-size:2.6px;line-height:3.120px;color:#777;font-weight:normal;">admin</div>
<div class="t" style="left:696.80px;top:165.00px;font-size:2.6px;line-height:3.120px;color:#777;font-weight:normal;">2023-10-10 15:30:58</div>
<div class="t" style="left:737.60px;top:165.00px;font-size:2.6px;line-height:3.120px;color:#555;font-weight:normal;">又坏了</div>
<div class="t" style="left:779.20px;top:165.00px;font-size:2.6px;line-height:3.120px;color:#1aa9a3;font-weight:normal;">查看</div>
<div style="left:488.80px;top:177.75px;width:329.20px;height:0.45px;background:#f1f1f1;"></div>
<div style="left:529.10px;top:170.00px;width:0.40px;height:8.10px;background:#f5f5f5;"></div>
<div style="left:570.80px;top:170.00px;width:0.40px;height:8.10px;background:#f5f5f5;"></div>
<div style="left:612.40px;top:170.00px;width:0.40px;height:8.10px;background:#f5f5f5;"></div>
<div style="left:653.10px;top:170.00px;width:0.40px;height:8.10px;background:#f5f5f5;"></div>
<div style="left:694.40px;top:170.00px;width:0.40px;height:8.10px;background:#f5f5f5;"></div>
<div style="left:735.20px;top:170.00px;width:0.40px;height:8.10px;background:#f5f5f5;"></div>
<div style="left:776.80px;top:170.00px;width:0.40px;height:8.10px;background:#f5f5f5;"></div>
<div class="t" style="left:491.00px;top:173.00px;font-size:2.6px;line-height:3.120px;color:#444;font-weight:normal;">审核流</div>
<div class="t" style="left:531.50px;top:173.00px;font-size:2.6px;line-height:3.120px;color:#777;font-weight:normal;">1711645529400045038</div>
<div class="t" style="left:573.20px;top:173.00px;font-size:2.6px;line-height:3.120px;color:#555;font-weight:normal;">水泵14</div>
<div class="t" style="left:614.80px;top:173.00px;font-size:2.6px;line-height:3.120px;color:#555;font-weight:normal;">维保工单</div>
<div class="t" style="left:655.50px;top:173.00px;font-size:2.6px;line-height:3.120px;color:#777;font-weight:normal;">admin</div>
<div class="t" style="left:696.80px;top:173.00px;font-size:2.6px;line-height:3.120px;color:#777;font-weight:normal;">2023-10-10 15:29:35</div>
<div class="t" style="left:737.60px;top:173.00px;font-size:2.6px;line-height:3.120px;color:#555;font-weight:normal;">损坏</div>
<div class="t" style="left:779.20px;top:173.00px;font-size:2.6px;line-height:3.120px;color:#1aa9a3;font-weight:normal;">查看</div>
<div style="left:488.80px;top:185.85px;width:329.20px;height:0.45px;background:#f1f1f1;"></div>
<div style="left:529.10px;top:178.10px;width:0.40px;height:8.10px;background:#f5f5f5;"></div>
<div style="left:570.80px;top:178.10px;width:0.40px;height:8.10px;background:#f5f5f5;"></div>
<div style="left:612.40px;top:178.10px;width:0.40px;height:8.10px;background:#f5f5f5;"></div>
<div style="left:653.10px;top:178.10px;width:0.40px;height:8.10px;background:#f5f5f5;"></div>
<div style="left:694.40px;top:178.10px;width:0.40px;height:8.10px;background:#f5f5f5;"></div>
<div style="left:735.20px;top:178.10px;width:0.40px;height:8.10px;background:#f5f5f5;"></div>
<div style="left:776.80px;top:178.10px;width:0.40px;height:8.10px;background:#f5f5f5;"></div>
<div class="t" style="left:491.00px;top:181.00px;font-size:2.6px;line-height:3.120px;color:#444;font-weight:normal;">审核流</div>
<div class="t" style="left:531.50px;top:181.00px;font-size:2.6px;line-height:3.120px;color:#777;font-weight:normal;">1010001</div>
<div class="t" style="left:573.20px;top:181.00px;font-size:2.6px;line-height:3.120px;color:#555;font-weight:normal;">水泵维保计划</div>
<div class="t" style="left:614.80px;top:181.00px;font-size:2.6px;line-height:3.120px;color:#555;font-weight:normal;">维保计划</div>
<div class="t" style="left:655.50px;top:181.00px;font-size:2.6px;line-height:3.120px;color:#777;font-weight:normal;">admin</div>
<div class="t" style="left:696.80px;top:181.00px;font-size:2.6px;line-height:3.120px;color:#777;font-weight:normal;">2023-10-10 15:20:37</div>
<div class="t" style="left:737.60px;top:181.00px;font-size:2.6px;line-height:3.120px;color:#555;font-weight:normal;">水泵维保</div>
<div class="t" style="left:779.20px;top:181.00px;font-size:2.6px;line-height:3.120px;color:#1aa9a3;font-weight:normal;">查看</div>
<div style="left:488.80px;top:193.95px;width:329.20px;height:0.45px;background:#f1f1f1;"></div>
<div style="left:529.10px;top:186.20px;width:0.40px;height:8.10px;background:#f5f5f5;"></div>
<div style="left:570.80px;top:186.20px;width:0.40px;height:8.10px;background:#f5f5f5;"></div>
<div style="left:612.40px;top:186.20px;width:0.40px;height:8.10px;background:#f5f5f5;"></div>
<div style="left:653.10px;top:186.20px;width:0.40px;height:8.10px;background:#f5f5f5;"></div>
<div style="left:694.40px;top:186.20px;width:0.40px;height:8.10px;background:#f5f5f5;"></div>
<div style="left:735.20px;top:186.20px;width:0.40px;height:8.10px;background:#f5f5f5;"></div>
<div style="left:776.80px;top:186.20px;width:0.40px;height:8.10px;background:#f5f5f5;"></div>
<div class="t" style="left:491.00px;top:189.00px;font-size:2.6px;line-height:3.120px;color:#444;font-weight:normal;">审核流</div>
<div class="t" style="left:531.50px;top:189.00px;font-size:2.6px;line-height:3.120px;color:#777;font-weight:normal;">1711620054000247712</div>
<div class="t" style="left:573.20px;top:189.00px;font-size:2.6px;line-height:3.120px;color:#555;font-weight:normal;">輸送設机</div>
<div class="t" style="left:614.80px;top:189.00px;font-size:2.6px;line-height:3.120px;color:#555;font-weight:normal;">维保工单</div>
<div class="t" style="left:655.50px;top:189.00px;font-size:2.6px;line-height:3.120px;color:#777;font-weight:normal;">admin</div>
<div class="t" style="left:696.80px;top:189.00px;font-size:2.6px;line-height:3.120px;color:#777;font-weight:normal;">2023-10-10 15:05:31</div>
<div class="t" style="left:737.60px;top:189.00px;font-size:2.6px;line-height:3.120px;color:#555;font-weight:normal;">故障</div>
<div class="t" style="left:779.20px;top:189.00px;font-size:2.6px;line-height:3.120px;color:#1aa9a3;font-weight:normal;">查看</div>
<div style="left:488.60px;top:137.80px;width:0.45px;height:56.50px;background:#f2f2f2;"></div>
<div style="left:817.75px;top:137.80px;width:0.45px;height:56.50px;background:#f2f2f2;"></div>
<div class="t" style="left:779.40px;top:157.00px;font-size:2.6px;line-height:3.120px;color:#1aa9a3;font-weight:normal;">同意 驳回 查看</div>
<div style="left:777.50px;top:155.30px;width:22.50px;height:5.10px;background:#fff;"></div>
<div class="t" style="left:779.40px;top:157.00px;font-size:2.6px;line-height:3.120px;color:#1aa9a3;font-weight:normal;">同意 驳回 查看</div>
<div class="t" style="left:737.00px;top:288.00px;font-size:2.6px;line-height:3.120px;color:#666;font-weight:normal;">共 6 条</div>
<div style="left:748.00px;top:286.10px;width:21.00px;height:5.60px;background:#fff;border:0.5px solid #ebebeb;border-radius:0.6px;"></div>
<div class="t" style="left:750.50px;top:288.00px;font-size:2.6px;line-height:3.120px;color:#777;font-weight:normal;">10条/页</div>
<div class="t" style="left:774.50px;top:288.00px;font-size:3.3800000000000003px;line-height:4.056px;color:#bbb;font-weight:normal;">‹</div>
<div class="t" style="left:782.50px;top:288.00px;font-size:2.6px;line-height:3.120px;color:#06a8a4;font-weight:bold;">1</div>
<div class="t" style="left:790.00px;top:288.00px;font-size:3.3800000000000003px;line-height:4.056px;color:#bbb;font-weight:normal;">›</div>
<div class="t" style="left:797.50px;top:288.00px;font-size:2.6px;line-height:3.120px;color:#666;font-weight:normal;">前往</div>
<div style="left:804.50px;top:286.10px;width:9.00px;height:5.60px;background:#fff;border:0.5px solid #ebebeb;border-radius:0.6px;"></div>
<div class="t" style="left:808.20px;top:288.00px;font-size:2.6px;line-height:3.120px;color:#666;font-weight:normal;">1</div>
<div class="t" style="left:815.00px;top:288.00px;font-size:2.6px;line-height:3.120px;color:#666;font-weight:normal;">页</div>
<div style="left:876.00px;top:107.00px;width:319.00px;height:198.00px;background:#fff;"></div>
<div style="left:876.00px;top:274.40px;width:319.00px;height:30.60px;background:#f4f4f4;"></div>
<div style="left:822.00px;top:107.00px;width:54.00px;height:198.00px;background:linear-gradient(180deg,#08708e 0%,#0f8489 100%);"></div>
<div style="left:822.00px;top:107.00px;width:54.00px;height:12.80px;background:#0a6580;"></div>
<div style="left:822.00px;top:227.80px;width:54.00px;height:22.20px;background:#0a586b;"></div>
<div style="left:822.00px;top:250.00px;width:54.00px;height:9.20px;background:#13aba5;"></div>
<div style="left:827.40px;top:122.20px;width:3.20px;height:3.20px;background:rgba(255,255,255,0.35);"></div>
<div class="t" style="left:833.00px;top:123.00px;font-size:3.0px;line-height:3.600px;color:rgba(255,255,255,0.92);font-weight:bold;">分销管理</div>
<div style="left:827.40px;top:132.70px;width:3.20px;height:3.20px;background:rgba(255,255,255,0.35);"></div>
<div class="t" style="left:833.00px;top:134.00px;font-size:3.0px;line-height:3.600px;color:rgba(255,255,255,0.92);font-weight:bold;">工业概况</div>
<div style="left:869.10px;top:133.10px;width:1.80px;height:1.80px;background:transparent;border-right:0.5px solid rgba(255,255,255,0.3);border-bottom:0.5px solid rgba(255,255,255,0.3);transform:rotate(45deg);"></div>
<div style="left:827.40px;top:143.80px;width:3.20px;height:3.20px;background:rgba(255,255,255,0.35);"></div>
<div class="t" style="left:833.00px;top:145.00px;font-size:3.0px;line-height:3.600px;color:rgba(255,255,255,0.92);font-weight:bold;">用电统计</div>
<div style="left:869.10px;top:144.20px;width:1.80px;height:1.80px;background:transparent;border-right:0.5px solid rgba(255,255,255,0.3);border-bottom:0.5px solid rgba(255,255,255,0.3);transform:rotate(45deg);"></div>
<div style="left:827.40px;top:154.70px;width:3.20px;height:3.20px;background:rgba(255,255,255,0.35);"></div>
<div class="t" style="left:833.00px;top:156.00px;font-size:3.0px;line-height:3.600px;color:rgba(255,255,255,0.92);font-weight:bold;">能耗统计</div>
<div style="left:869.10px;top:155.10px;width:1.80px;height:1.80px;background:transparent;border-right:0.5px solid rgba(255,255,255,0.3);border-bottom:0.5px solid rgba(255,255,255,0.3);transform:rotate(45deg);"></div>
<div style="left:827.40px;top:165.70px;width:3.20px;height:3.20px;background:rgba(255,255,255,0.35);"></div>
<div class="t" style="left:833.00px;top:167.00px;font-size:3.0px;line-height:3.600px;color:rgba(255,255,255,0.92);font-weight:bold;">对标分析</div>
<div style="left:869.10px;top:166.10px;width:1.80px;height:1.80px;background:transparent;border-right:0.5px solid rgba(255,255,255,0.3);border-bottom:0.5px solid rgba(255,255,255,0.3);transform:rotate(45deg);"></div>
<div style="left:827.40px;top:176.70px;width:3.20px;height:3.20px;background:rgba(255,255,255,0.35);"></div>
<div class="t" style="left:833.00px;top:178.00px;font-size:3.0px;line-height:3.600px;color:rgba(255,255,255,0.92);font-weight:bold;">能效管理</div>
<div style="left:869.10px;top:177.10px;width:1.80px;height:1.80px;background:transparent;border-right:0.5px solid rgba(255,255,255,0.3);border-bottom:0.5px solid rgba(255,255,255,0.3);transform:rotate(45deg);"></div>
<div style="left:827.40px;top:187.60px;width:3.20px;height:3.20px;background:rgba(255,255,255,0.35);"></div>
<div class="t" style="left:833.00px;top:188.00px;font-size:3.0px;line-height:3.600px;color:rgba(255,255,255,0.92);font-weight:bold;">需求管理</div>
<div style="left:869.10px;top:188.00px;width:1.80px;height:1.80px;background:transparent;border-right:0.5px solid rgba(255,255,255,0.3);border-bottom:0.5px solid rgba(255,255,255,0.3);transform:rotate(45deg);"></div>
<div style="left:827.40px;top:198.60px;width:3.20px;height:3.20px;background:rgba(255,255,255,0.35);"></div>
<div class="t" style="left:833.00px;top:199.00px;font-size:3.0px;line-height:3.600px;color:rgba(255,255,255,0.92);font-weight:bold;">报警管理</div>
<div style="left:869.10px;top:199.00px;width:1.80px;height:1.80px;background:transparent;border-right:0.5px solid rgba(255,255,255,0.3);border-bottom:0.5px solid rgba(255,255,255,0.3);transform:rotate(45deg);"></div>
<div style="left:827.40px;top:209.80px;width:3.20px;height:3.20px;background:rgba(255,255,255,0.35);"></div>
<div class="t" style="left:833.00px;top:211.00px;font-size:3.0px;line-height:3.600px;color:rgba(255,255,255,0.92);font-weight:bold;">产能管理</div>
<div style="left:869.10px;top:210.20px;width:1.80px;height:1.80px;background:transparent;border-right:0.5px solid rgba(255,255,255,0.3);border-bottom:0.5px solid rgba(255,255,255,0.3);transform:rotate(45deg);"></div>
<div style="left:827.40px;top:220.80px;width:3.20px;height:3.20px;background:rgba(255,255,255,0.35);"></div>
<div class="t" style="left:833.00px;top:222.00px;font-size:3.0px;line-height:3.600px;color:rgba(255,255,255,0.92);font-weight:bold;">设备管理</div>
<div style="left:869.10px;top:222.00px;width:1.80px;height:1.80px;background:transparent;border-right:0.5px solid rgba(255,255,255,0.3);border-bottom:0.5px solid rgba(255,255,255,0.3);transform:rotate(-135deg);"></div>
<div class="t" style="left:832.50px;top:232.00px;font-size:3.0px;line-height:3.600px;color:rgba(255,255,255,0.92);font-weight:bold;">变压器管理</div>
<div class="t" style="left:832.50px;top:243.00px;font-size:3.0px;line-height:3.600px;color:rgba(255,255,255,0.92);font-weight:bold;">设备工况</div>
<div class="t" style="left:832.50px;top:254.00px;font-size:3.0px;line-height:3.600px;color:rgba(255,255,255,0.92);font-weight:bold;">设备台账</div>
<div style="left:827.40px;top:264.10px;width:3.20px;height:3.20px;background:rgba(255,255,255,0.35);"></div>
<div class="t" style="left:833.00px;top:265.00px;font-size:3.0px;line-height:3.600px;color:rgba(255,255,255,0.92);font-weight:bold;">运维管理</div>
<div style="left:869.10px;top:264.50px;width:1.80px;height:1.80px;background:transparent;border-right:0.5px solid rgba(255,255,255,0.3);border-bottom:0.5px solid rgba(255,255,255,0.3);transform:rotate(45deg);"></div>
<div style="left:827.40px;top:275.10px;width:3.20px;height:3.20px;background:rgba(255,255,255,0.35);"></div>
<div class="t" style="left:833.00px;top:276.00px;font-size:3.0px;line-height:3.600px;color:rgba(255,255,255,0.92);font-weight:bold;">电表管理</div>
<div style="left:869.10px;top:275.50px;width:1.80px;height:1.80px;background:transparent;border-right:0.5px solid rgba(255,255,255,0.3);border-bottom:0.5px solid rgba(255,255,255,0.3);transform:rotate(45deg);"></div>
<div style="left:827.40px;top:286.00px;width:3.20px;height:3.20px;background:rgba(255,255,255,0.35);"></div>
<div class="t" style="left:833.00px;top:287.00px;font-size:3.0px;line-height:3.600px;color:rgba(255,255,255,0.92);font-weight:bold;">文档管理</div>
<div style="left:869.10px;top:286.40px;width:1.80px;height:1.80px;background:transparent;border-right:0.5px solid rgba(255,255,255,0.3);border-bottom:0.5px solid rgba(255,255,255,0.3);transform:rotate(45deg);"></div>
<div style="left:827.40px;top:297.00px;width:3.20px;height:3.20px;background:rgba(255,255,255,0.35);"></div>
<div class="t" style="left:833.00px;top:298.00px;font-size:3.0px;line-height:3.600px;color:rgba(255,255,255,0.92);font-weight:bold;">基础数据管理</div>
<div style="left:869.10px;top:297.40px;width:1.80px;height:1.80px;background:transparent;border-right:0.5px solid rgba(255,255,255,0.3);border-bottom:0.5px solid rgba(255,255,255,0.3);transform:rotate(45deg);"></div>
<div style="left:881.55px;top:112.25px;width:3.50px;height:3.50px;background:#666;opacity:0.45;"></div>
<div class="t" style="left:890.90px;top:112.00px;font-size:4.7px;line-height:5.640px;color:#222;font-weight:bold;">企业能源管控平台</div>
<div style="left:946.70px;top:111.40px;width:49.30px;height:5.70px;background:#ededed;border-radius:3px;"></div>
<div class="t" style="left:949.50px;top:114.00px;font-size:3px;line-height:3.600px;color:#777;font-weight:normal;">智慧工厂电气监测</div>
<div style="left:981.70px;top:111.40px;width:14.30px;height:5.70px;background:#13a8a2;border-radius:3px;"></div>
<div class="t" style="left:986.00px;top:114.00px;font-size:3px;line-height:3.600px;color:#fff;font-weight:bold;">切换</div>
<div class="t" style="left:1048.30px;top:113.00px;font-size:3px;line-height:3.600px;color:#555;font-weight:normal;">⛶ 全屏</div>
<div class="t" style="left:1066.00px;top:113.00px;font-size:3.2px;line-height:3.840px;color:#777;font-weight:normal;">中</div>
<div style="left:1073.50px;top:111.00px;width:6.00px;height:6.00px;background:#2ab54b;border-radius:50%;"></div>
<div style="left:1075.00px;top:112.50px;width:3.00px;height:3.00px;background:#bfe9c8;border-radius:50%;"></div>
<div class="t" style="left:1082.00px;top:113.00px;font-size:3px;line-height:3.600px;color:#777;font-weight:normal;">14℃</div>
<div style="left:1095.80px;top:111.70px;width:10.00px;height:5.00px;background:#2dbb4f;"></div>
<div class="t" style="left:1097.00px;top:113.00px;font-size:3px;line-height:3.600px;color:#fff;font-weight:normal;">一般</div>
<div style="left:1103.00px;top:109.30px;width:7.00px;height:3.00px;background:#2dbb4f;border-radius:2px;"></div>
<div style="left:1110.00px;top:111.70px;width:10.00px;height:5.00px;background:#f6b625;"></div>
<div class="t" style="left:1111.50px;top:113.00px;font-size:3px;line-height:3.600px;color:#fff;font-weight:normal;">重要</div>
<div style="left:1117.00px;top:109.30px;width:7.00px;height:3.00px;background:#f6b625;border-radius:2px;"></div>
<div style="left:1125.00px;top:111.70px;width:10.00px;height:5.00px;background:#f0545a;"></div>
<div class="t" style="left:1126.50px;top:113.00px;font-size:3px;line-height:3.600px;color:#fff;font-weight:normal;">严重</div>
<div style="left:1132.00px;top:109.00px;width:5.50px;height:3.30px;background:#f0545a;border-radius:2px;"></div>
<div style="left:1140.00px;top:112.30px;width:2.80px;height:3.50px;background:#777;"></div>
<div class="t" style="left:1143.30px;top:113.00px;font-size:3px;line-height:3.600px;color:#555;font-weight:normal;">APP下载</div>
<div style="left:1160.50px;top:112.00px;width:4.00px;height:4.00px;background:transparent;border:0.6px solid #777;border-radius:50%;"></div>
<div class="t" style="left:1169.00px;top:113.00px;font-size:3px;line-height:3.600px;color:#777;font-weight:normal;">admin</div>
<div class="t" style="left:1181.00px;top:113.00px;font-size:3px;line-height:3.600px;color:#27b0aa;font-weight:normal;">切换主题</div>
<div style="left:880.00px;top:122.20px;width:12.00px;height:6.80px;background:#f2f2f2;"></div>
<div class="t" style="left:882.50px;top:125.00px;font-size:3px;line-height:3.600px;color:#666;font-weight:normal;">首页</div>
<div style="left:893.00px;top:122.20px;width:27.00px;height:6.80px;background:#f2f2f2;"></div>
<div class="t" style="left:895.50px;top:125.00px;font-size:3px;line-height:3.600px;color:#777;font-weight:normal;">变压器管理 ×</div>
<div style="left:921.00px;top:122.20px;width:21.00px;height:6.80px;background:#f2f2f2;"></div>
<div class="t" style="left:923.50px;top:125.00px;font-size:3px;line-height:3.600px;color:#777;font-weight:normal;">设备工况 ×</div>
<div style="left:943.00px;top:122.20px;width:22.00px;height:6.80px;background:#e2f2f3;"></div>
<div class="t" style="left:945.50px;top:125.00px;font-size:3px;line-height:3.600px;color:#333;font-weight:normal;">设备台账 ×</div>
<div style="left:876.00px;top:129.50px;width:319.00px;height:0.50px;background:#eeeeee;"></div>
<div style="left:881.60px;top:135.00px;width:14.40px;height:5.80px;background:#14a8a3;border-radius:0.6px;"></div>
<div class="t" style="left:883.60px;top:137.00px;font-size:3px;line-height:3.600px;color:#fff;font-weight:bold;">✚ 添加</div>
<div style="left:897.50px;top:135.00px;width:14.50px;height:5.80px;background:#1ba27a;border-radius:0.6px;"></div>
<div class="t" style="left:899.50px;top:137.00px;font-size:3px;line-height:3.600px;color:#fff;font-weight:bold;">✎ 编辑</div>
<div style="left:913.60px;top:135.00px;width:14.40px;height:5.80px;background:#e0434f;border-radius:0.6px;"></div>
<div class="t" style="left:915.60px;top:137.00px;font-size:3px;line-height:3.600px;color:#fff;font-weight:bold;">▢ 删除</div>
<div style="left:929.50px;top:135.00px;width:14.50px;height:5.80px;background:#14a8a3;border-radius:0.6px;"></div>
<div class="t" style="left:931.50px;top:137.00px;font-size:3px;line-height:3.600px;color:#fff;font-weight:bold;">▢ 启用</div>
<div style="left:945.50px;top:135.00px;width:14.50px;height:5.80px;background:#14a8a3;border-radius:0.6px;"></div>
<div class="t" style="left:947.50px;top:137.00px;font-size:3px;line-height:3.600px;color:#fff;font-weight:bold;">▢ 停用</div>
<div style="left:961.50px;top:135.00px;width:14.50px;height:5.80px;background:#14a8a3;border-radius:0.6px;"></div>
<div class="t" style="left:963.50px;top:137.00px;font-size:3px;line-height:3.600px;color:#fff;font-weight:bold;">▢ 报废</div>
<div style="left:977.00px;top:135.00px;width:14.50px;height:5.80px;background:#5cc8c5;border-radius:0.6px;"></div>
<div class="t" style="left:979.00px;top:137.00px;font-size:3px;line-height:3.600px;color:#fff;font-weight:bold;">⇪ 导出</div>
<div class="t" style="left:985.00px;top:144.00px;font-size:2.8px;line-height:3.360px;color:#777;font-weight:normal;">状态:</div>
<div style="left:995.00px;top:141.00px;width:25.80px;height:6.60px;background:#ececec;"></div>
<div class="t" style="left:997.00px;top:144.00px;font-size:2.8px;line-height:3.360px;color:#777;font-weight:normal;">全部</div>
<div class="t" style="left:1023.00px;top:144.00px;font-size:2.8px;line-height:3.360px;color:#666;font-weight:normal;">是否重点能耗设备:</div>
<div style="left:1051.00px;top:141.00px;width:17.00px;height:6.60px;background:#ececec;"></div>
<div class="t" style="left:1069.00px;top:144.00px;font-size:2.8px;line-height:3.360px;color:#666;font-weight:normal;">是否计量能耗:</div>
<div style="left:1088.00px;top:141.00px;width:17.00px;height:6.60px;background:#ececec;"></div>
<div style="left:1107.00px;top:141.00px;width:67.00px;height:6.60px;background:#ececec;"></div>
<div class="t" style="left:1109.50px;top:144.00px;font-size:2.8px;line-height:3.360px;color:#bbb;font-weight:normal;">设备名称/所在部门</div>
<div style="left:1176.00px;top:140.80px;width:15.50px;height:7.20px;background:#14a8a3;border-radius:0.6px;"></div>
<div class="t" style="left:1178.00px;top:144.00px;font-size:3px;line-height:3.600px;color:#fff;font-weight:bold;">⌕ 搜索</div>
<div style="left:881.00px;top:153.90px;width:310.30px;height:6.10px;background:#f1f1f1;"></div>
<div style="left:884.50px;top:155.50px;width:3.20px;height:3.20px;background:#13a8a2;border-radius:50%;"></div>
<div class="t" style="left:889.50px;top:156.00px;font-size:3px;line-height:3.600px;color:#444;font-weight:normal;">已选择 0</div>
<div class="t" style="left:910.00px;top:156.00px;font-size:3px;line-height:3.600px;color:#35b5b0;font-weight:normal;">清空</div>
<div style="left:881.50px;top:162.30px;width:309.80px;height:9.70px;background:#06a8a4;"></div>
<div style="left:895.25px;top:162.30px;width:0.50px;height:9.70px;background:rgba(255,255,255,0.22);"></div>
<div style="left:915.05px;top:162.30px;width:0.50px;height:9.70px;background:rgba(255,255,255,0.22);"></div>
<div style="left:932.25px;top:162.30px;width:0.50px;height:9.70px;background:rgba(255,255,255,0.22);"></div>
<div style="left:949.35px;top:162.30px;width:0.50px;height:9.70px;background:rgba(255,255,255,0.22);"></div>
<div style="left:979.05px;top:162.30px;width:0.50px;height:9.70px;background:rgba(255,255,255,0.22);"></div>
<div style="left:1002.85px;top:162.30px;width:0.50px;height:9.70px;background:rgba(255,255,255,0.22);"></div>
<div style="left:1013.05px;top:162.30px;width:0.50px;height:9.70px;background:rgba(255,255,255,0.22);"></div>
<div style="left:1030.25px;top:162.30px;width:0.50px;height:9.70px;background:rgba(255,255,255,0.22);"></div>
<div style="left:1047.25px;top:162.30px;width:0.50px;height:9.70px;background:rgba(255,255,255,0.22);"></div>
<div style="left:1057.25px;top:162.30px;width:0.50px;height:9.70px;background:rgba(255,255,255,0.22);"></div>
<div style="left:1074.25px;top:162.30px;width:0.50px;height:9.70px;background:rgba(255,255,255,0.22);"></div>
<div style="left:1088.05px;top:162.30px;width:0.50px;height:9.70px;background:rgba(255,255,255,0.22);"></div>
<div style="left:1121.05px;top:162.30px;width:0.50px;height:9.70px;background:rgba(255,255,255,0.22);"></div>
<div style="left:886.80px;top:165.45px;width:3.40px;height:3.40px;background:#08807c;border:0.5px solid #08807c;"></div>
<div class="t" style="left:897.70px;top:166.00px;font-size:2.8px;line-height:3.360px;color:#fff;font-weight:bold;">设备名称</div>
<div class="t" style="left:917.50px;top:166.00px;font-size:2.8px;line-height:3.360px;color:#fff;font-weight:bold;">设备编号</div>
<div class="t" style="left:934.70px;top:166.00px;font-size:2.8px;line-height:3.360px;color:#fff;font-weight:bold;">设备类型</div>
<div class="t" style="left:951.80px;top:166.00px;font-size:2.8px;line-height:3.360px;color:#fff;font-weight:bold;">是否重点能耗设备</div>
<div class="t" style="left:981.50px;top:166.00px;font-size:2.8px;line-height:3.360px;color:#fff;font-weight:bold;">是否计量能耗</div>
<div class="t" style="left:1005.30px;top:166.00px;font-size:2.8px;line-height:3.360px;color:#fff;font-weight:bold;">状态</div>
<div class="t" style="left:1015.50px;top:166.00px;font-size:2.8px;line-height:3.360px;color:#fff;font-weight:bold;">规格型号</div>
<div class="t" style="left:1032.70px;top:166.00px;font-size:2.8px;line-height:3.360px;color:#fff;font-weight:bold;">生产厂家</div>
<div class="t" style="left:1049.70px;top:166.00px;font-size:2.8px;line-height:3.360px;color:#fff;font-weight:bold;">品牌</div>
<div class="t" style="left:1059.70px;top:166.00px;font-size:2.8px;line-height:3.360px;color:#fff;font-weight:bold;">安装地点</div>
<div class="t" style="left:1076.70px;top:166.00px;font-size:2.8px;line-height:3.360px;color:#fff;font-weight:bold;">负责人</div>
<div class="t" style="left:1090.50px;top:166.00px;font-size:2.8px;line-height:3.360px;color:#fff;font-weight:bold;">创建时间</div>
<div class="t" style="left:1123.50px;top:166.00px;font-size:2.8px;line-height:3.360px;color:#fff;font-weight:bold;">操作</div>
<div style="left:881.50px;top:181.10px;width:309.80px;height:0.45px;background:#f1f1f1;"></div>
<div style="left:895.30px;top:172.00px;width:0.40px;height:9.45px;background:#f5f5f5;"></div>
<div style="left:915.10px;top:172.00px;width:0.40px;height:9.45px;background:#f5f5f5;"></div>
<div style="left:932.30px;top:172.00px;width:0.40px;height:9.45px;background:#f5f5f5;"></div>
<div style="left:949.40px;top:172.00px;width:0.40px;height:9.45px;background:#f5f5f5;"></div>
<div style="left:979.10px;top:172.00px;width:0.40px;height:9.45px;background:#f5f5f5;"></div>
<div style="left:1002.90px;top:172.00px;width:0.40px;height:9.45px;background:#f5f5f5;"></div>
<div style="left:1013.10px;top:172.00px;width:0.40px;height:9.45px;background:#f5f5f5;"></div>
<div style="left:1030.30px;top:172.00px;width:0.40px;height:9.45px;background:#f5f5f5;"></div>
<div style="left:1047.30px;top:172.00px;width:0.40px;height:9.45px;background:#f5f5f5;"></div>
<div style="left:1057.30px;top:172.00px;width:0.40px;height:9.45px;background:#f5f5f5;"></div>
<div style="left:1074.30px;top:172.00px;width:0.40px;height:9.45px;background:#f5f5f5;"></div>
<div style="left:1088.10px;top:172.00px;width:0.40px;height:9.45px;background:#f5f5f5;"></div>
<div style="left:1121.10px;top:172.00px;width:0.40px;height:9.45px;background:#f5f5f5;"></div>
<div style="left:886.90px;top:175.12px;width:3.20px;height:3.20px;background:#f2f2f2;border:0.5px solid #d6d6d6;"></div>
<div class="t" style="left:897.70px;top:176.00px;font-size:2.8px;line-height:3.360px;color:#555;font-weight:normal;">00</div>
<div class="t" style="left:917.50px;top:176.00px;font-size:2.8px;line-height:3.360px;color:#555;font-weight:normal;">00</div>
<div class="t" style="left:934.70px;top:176.00px;font-size:2.8px;line-height:3.360px;color:#555;font-weight:normal;">照明</div>
<div class="t" style="left:951.80px;top:176.00px;font-size:2.8px;line-height:3.360px;color:#555;font-weight:normal;">否</div>
<div class="t" style="left:981.50px;top:176.00px;font-size:2.8px;line-height:3.360px;color:#555;font-weight:normal;">否</div>
<div class="t" style="left:1005.30px;top:176.00px;font-size:2.8px;line-height:3.360px;color:#555;font-weight:normal;">使用</div>
<div class="t" style="left:1015.50px;top:176.00px;font-size:2.8px;line-height:3.360px;color:#555;font-weight:normal;">252</div>
<div class="t" style="left:1032.70px;top:176.00px;font-size:2.8px;line-height:3.360px;color:#555;font-weight:normal;">2</div>
<div class="t" style="left:1049.70px;top:176.00px;font-size:2.8px;line-height:3.360px;color:#555;font-weight:normal;">2</div>
<div class="t" style="left:1059.70px;top:176.00px;font-size:2.8px;line-height:3.360px;color:#555;font-weight:normal;">2</div>
<div class="t" style="left:1076.70px;top:176.00px;font-size:2.8px;line-height:3.360px;color:#555;font-weight:normal;">2</div>
<div class="t" style="left:1090.50px;top:176.00px;font-size:2.8px;line-height:3.360px;color:#555;font-weight:normal;">2023-01-29 16:00:01</div>
<div class="t" style="left:1123.50px;top:176.00px;font-size:2.8px;line-height:3.360px;color:#1aa9a3;font-weight:normal;">保养 维修 报废 查看 参数录入</div>
<div style="left:881.50px;top:181.45px;width:309.80px;height:9.45px;background:#f1f7f8;"></div>
<div style="left:881.50px;top:190.55px;width:309.80px;height:0.45px;background:#f1f1f1;"></div>
<div style="left:895.30px;top:181.45px;width:0.40px;height:9.45px;background:#f5f5f5;"></div>
<div style="left:915.10px;top:181.45px;width:0.40px;height:9.45px;background:#f5f5f5;"></div>
<div style="left:932.30px;top:181.45px;width:0.40px;height:9.45px;background:#f5f5f5;"></div>
<div style="left:949.40px;top:181.45px;width:0.40px;height:9.45px;background:#f5f5f5;"></div>
<div style="left:979.10px;top:181.45px;width:0.40px;height:9.45px;background:#f5f5f5;"></div>
<div style="left:1002.90px;top:181.45px;width:0.40px;height:9.45px;background:#f5f5f5;"></div>
<div style="left:1013.10px;top:181.45px;width:0.40px;height:9.45px;background:#f5f5f5;"></div>
<div style="left:1030.30px;top:181.45px;width:0.40px;height:9.45px;background:#f5f5f5;"></div>
<div style="left:1047.30px;top:181.45px;width:0.40px;height:9.45px;background:#f5f5f5;"></div>
<div style="left:1057.30px;top:181.45px;width:0.40px;height:9.45px;background:#f5f5f5;"></div>
<div style="left:1074.30px;top:181.45px;width:0.40px;height:9.45px;background:#f5f5f5;"></div>
<div style="left:1088.10px;top:181.45px;width:0.40px;height:9.45px;background:#f5f5f5;"></div>
<div style="left:1121.10px;top:181.45px;width:0.40px;height:9.45px;background:#f5f5f5;"></div>
<div style="left:886.90px;top:184.57px;width:3.20px;height:3.20px;background:#f2f2f2;border:0.5px solid #d6d6d6;"></div>
<div class="t" style="left:897.70px;top:185.00px;font-size:2.8px;line-height:3.360px;color:#555;font-weight:normal;">元件三号电</div>
<div class="t" style="left:917.50px;top:185.00px;font-size:2.8px;line-height:3.360px;color:#555;font-weight:normal;">4</div>
<div class="t" style="left:934.70px;top:185.00px;font-size:2.8px;line-height:3.360px;color:#555;font-weight:normal;">照明</div>
<div class="t" style="left:951.80px;top:185.00px;font-size:2.8px;line-height:3.360px;color:#555;font-weight:normal;">是</div>
<div class="t" style="left:981.50px;top:185.00px;font-size:2.8px;line-height:3.360px;color:#555;font-weight:normal;">是</div>
<div class="t" style="left:1005.30px;top:185.00px;font-size:2.8px;line-height:3.360px;color:#555;font-weight:normal;">使用</div>
<div class="t" style="left:1015.50px;top:185.00px;font-size:2.8px;line-height:3.360px;color:#555;font-weight:normal;">20</div>
<div class="t" style="left:1032.70px;top:185.00px;font-size:2.8px;line-height:3.360px;color:#555;font-weight:normal;">123</div>
<div class="t" style="left:1049.70px;top:185.00px;font-size:2.8px;line-height:3.360px;color:#555;font-weight:normal;">123</div>
<div class="t" style="left:1059.70px;top:185.00px;font-size:2.8px;line-height:3.360px;color:#555;font-weight:normal;">123</div>
<div class="t" style="left:1076.70px;top:185.00px;font-size:2.8px;line-height:3.360px;color:#555;font-weight:normal;">123</div>
<div class="t" style="left:1090.50px;top:185.00px;font-size:2.8px;line-height:3.360px;color:#555;font-weight:normal;">2022-12-10 14:47:06</div>
<div class="t" style="left:1123.50px;top:185.00px;font-size:2.8px;line-height:3.360px;color:#1aa9a3;font-weight:normal;">保养 维修 报废 查看 参数录入 绑定仪表参数</div>
<div style="left:881.50px;top:200.00px;width:309.80px;height:0.45px;background:#f1f1f1;"></div>
<div style="left:895.30px;top:190.90px;width:0.40px;height:9.45px;background:#f5f5f5;"></div>
<div style="left:915.10px;top:190.90px;width:0.40px;height:9.45px;background:#f5f5f5;"></div>
<div style="left:932.30px;top:190.90px;width:0.40px;height:9.45px;background:#f5f5f5;"></div>
<div style="left:949.40px;top:190.90px;width:0.40px;height:9.45px;background:#f5f5f5;"></div>
<div style="left:979.10px;top:190.90px;width:0.40px;height:9.45px;background:#f5f5f5;"></div>
<div style="left:1002.90px;top:190.90px;width:0.40px;height:9.45px;background:#f5f5f5;"></div>
<div style="left:1013.10px;top:190.90px;width:0.40px;height:9.45px;background:#f5f5f5;"></div>
<div style="left:1030.30px;top:190.90px;width:0.40px;height:9.45px;background:#f5f5f5;"></div>
<div style="left:1047.30px;top:190.90px;width:0.40px;height:9.45px;background:#f5f5f5;"></div>
<div style="left:1057.30px;top:190.90px;width:0.40px;height:9.45px;background:#f5f5f5;"></div>
<div style="left:1074.30px;top:190.90px;width:0.40px;height:9.45px;background:#f5f5f5;"></div>
<div style="left:1088.10px;top:190.90px;width:0.40px;height:9.45px;background:#f5f5f5;"></div>
<div style="left:1121.10px;top:190.90px;width:0.40px;height:9.45px;background:#f5f5f5;"></div>
<div style="left:886.90px;top:194.03px;width:3.20px;height:3.20px;background:#f2f2f2;border:0.5px solid #d6d6d6;"></div>
<div class="t" style="left:897.70px;top:195.00px;font-size:2.8px;line-height:3.360px;color:#555;font-weight:normal;">2321</div>
<div class="t" style="left:917.50px;top:195.00px;font-size:2.8px;line-height:3.360px;color:#555;font-weight:normal;">3213</div>
<div class="t" style="left:934.70px;top:195.00px;font-size:2.8px;line-height:3.360px;color:#555;font-weight:normal;">变压器</div>
<div class="t" style="left:951.80px;top:195.00px;font-size:2.8px;line-height:3.360px;color:#555;font-weight:normal;">是</div>
<div class="t" style="left:981.50px;top:195.00px;font-size:2.8px;line-height:3.360px;color:#555;font-weight:normal;">是</div>
<div class="t" style="left:1005.30px;top:195.00px;font-size:2.8px;line-height:3.360px;color:#555;font-weight:normal;">维修</div>
<div class="t" style="left:1015.50px;top:195.00px;font-size:2.8px;line-height:3.360px;color:#555;font-weight:normal;">10</div>
<div class="t" style="left:1032.70px;top:195.00px;font-size:2.8px;line-height:3.360px;color:#555;font-weight:normal;">10</div>
<div class="t" style="left:1049.70px;top:195.00px;font-size:2.8px;line-height:3.360px;color:#555;font-weight:normal;">10</div>
<div class="t" style="left:1059.70px;top:195.00px;font-size:2.8px;line-height:3.360px;color:#555;font-weight:normal;">213</div>
<div class="t" style="left:1076.70px;top:195.00px;font-size:2.8px;line-height:3.360px;color:#555;font-weight:normal;">131</div>
<div class="t" style="left:1090.50px;top:195.00px;font-size:2.8px;line-height:3.360px;color:#555;font-weight:normal;">2022-05-13 16:16:20</div>
<div class="t" style="left:1123.50px;top:195.00px;font-size:2.8px;line-height:3.360px;color:#1aa9a3;font-weight:normal;">使用 保养 报废 查看 参数录入 绑定仪表参数</div>
<div style="left:881.30px;top:162.30px;width:0.45px;height:38.05px;background:#f2f2f2;"></div>
<div style="left:1191.05px;top:162.30px;width:0.45px;height:38.05px;background:#f2f2f2;"></div>
<div class="t" style="left:1143.00px;top:208.00px;font-size:3px;line-height:3.600px;color:#777;font-weight:normal;">共 3 条</div>
<div class="t" style="left:1156.50px;top:207.00px;font-size:4px;line-height:4.800px;color:#aaa;font-weight:normal;">‹</div>
<div style="left:1159.50px;top:205.80px;width:5.50px;height:5.00px;background:#fff;border:0.5px solid #6cc9c5;"></div>
<div class="t" style="left:1161.30px;top:208.00px;font-size:3px;line-height:3.600px;color:#13a8a2;font-weight:normal;">1</div>
<div class="t" style="left:1166.80px;top:207.00px;font-size:4px;line-height:4.800px;color:#aaa;font-weight:normal;">›</div>
<div style="left:1171.00px;top:205.80px;width:19.00px;height:5.00px;background:#ececec;"></div>
<div class="t" style="left:1173.00px;top:208.00px;font-size:3px;line-height:3.600px;color:#666;font-weight:normal;">10条/页 ⌄</div>
<div style="left:1189.50px;top:295.50px;width:5.00px;height:5.00px;background:transparent;border:0.7px solid #555;border-radius:50%;"></div>
<div style="left:1196.80px;top:130.00px;width:2.00px;height:174.30px;background:#8ecfdc;"></div>
<div style="left:1198.80px;top:107.00px;width:2.70px;height:197.30px;background:#c8c8c8;"></div>
<div style="left:102.60px;top:348.00px;width:338.40px;height:194.00px;background:#fff;"></div>
<div style="left:102.60px;top:542.00px;width:338.40px;height:3.00px;background:#f3f3f3;"></div>
<div style="left:60.00px;top:348.00px;width:42.60px;height:196.80px;background:linear-gradient(180deg,#07718d 0%,#0e808b 100%);border-top-left-radius:2px;"></div>
<div style="left:60.00px;top:396.80px;width:42.60px;height:112.40px;background:#0a586b;"></div>
<div style="left:60.00px;top:387.00px;width:42.60px;height:9.80px;background:rgba(0,40,60,0.12);"></div>
<div style="left:60.00px;top:424.90px;width:42.60px;height:9.50px;background:#0b97a0;"></div>
<div style="left:63.70px;top:360.40px;width:2.60px;height:2.60px;background:rgba(255,255,255,0.35);"></div>
<div class="t" style="left:69.00px;top:361.00px;font-size:2.75px;line-height:3.300px;color:rgba(255,255,255,0.8);font-weight:bold;">首页概况</div>
<div style="left:96.10px;top:360.50px;width:1.80px;height:1.80px;background:transparent;border-right:0.5px solid rgba(255,255,255,0.3);border-bottom:0.5px solid rgba(255,255,255,0.3);transform:rotate(45deg);"></div>
<div style="left:63.70px;top:370.40px;width:2.60px;height:2.60px;background:rgba(255,255,255,0.35);"></div>
<div class="t" style="left:69.00px;top:371.00px;font-size:2.75px;line-height:3.300px;color:rgba(255,255,255,0.8);font-weight:bold;">分销监控</div>
<div style="left:96.10px;top:370.50px;width:1.80px;height:1.80px;background:transparent;border-right:0.5px solid rgba(255,255,255,0.3);border-bottom:0.5px solid rgba(255,255,255,0.3);transform:rotate(45deg);"></div>
<div style="left:63.70px;top:380.60px;width:2.60px;height:2.60px;background:rgba(255,255,255,0.35);"></div>
<div class="t" style="left:69.00px;top:381.00px;font-size:2.75px;line-height:3.300px;color:rgba(255,255,255,0.8);font-weight:bold;">电能质量</div>
<div style="left:96.10px;top:380.70px;width:1.80px;height:1.80px;background:transparent;border-right:0.5px solid rgba(255,255,255,0.3);border-bottom:0.5px solid rgba(255,255,255,0.3);transform:rotate(45deg);"></div>
<div style="left:63.70px;top:390.70px;width:2.60px;height:2.60px;background:rgba(255,255,255,0.35);"></div>
<div class="t" style="left:69.00px;top:391.00px;font-size:2.75px;line-height:3.300px;color:rgba(255,255,255,0.8);font-weight:bold;">设备管理</div>
<div style="left:96.10px;top:391.60px;width:1.80px;height:1.80px;background:transparent;border-right:0.5px solid rgba(255,255,255,0.3);border-bottom:0.5px solid rgba(255,255,255,0.3);transform:rotate(-135deg);"></div>
<div class="t" style="left:67.50px;top:401.00px;font-size:2.75px;line-height:3.300px;color:rgba(255,255,255,0.8);font-weight:bold;">设备定义</div>
<div class="t" style="left:67.50px;top:410.00px;font-size:2.75px;line-height:3.300px;color:rgba(255,255,255,0.8);font-weight:bold;">设备档案</div>
<div class="t" style="left:67.50px;top:420.00px;font-size:2.75px;line-height:3.300px;color:rgba(255,255,255,0.8);font-weight:bold;">MTBF看板</div>
<div class="t" style="left:67.50px;top:429.00px;font-size:2.75px;line-height:3.300px;color:rgba(255,255,255,0.8);font-weight:bold;">工单管理</div>
<div class="t" style="left:67.50px;top:439.00px;font-size:2.75px;line-height:3.300px;color:rgba(255,255,255,0.8);font-weight:bold;">维保计划管理</div>
<div class="t" style="left:67.50px;top:448.00px;font-size:2.75px;line-height:3.300px;color:rgba(255,255,255,0.8);font-weight:bold;">设备台账</div>
<div class="t" style="left:67.50px;top:457.00px;font-size:2.75px;line-height:3.300px;color:rgba(255,255,255,0.8);font-weight:bold;">我的工单</div>
<div class="t" style="left:67.50px;top:467.00px;font-size:2.75px;line-height:3.300px;color:rgba(255,255,255,0.8);font-weight:bold;">审批管理</div>
<div class="t" style="left:67.50px;top:476.00px;font-size:2.75px;line-height:3.300px;color:rgba(255,255,255,0.8);font-weight:bold;">出入库管理</div>
<div class="t" style="left:67.50px;top:485.00px;font-size:2.75px;line-height:3.300px;color:rgba(255,255,255,0.8);font-weight:bold;">备品备件管理</div>
<div class="t" style="left:67.50px;top:495.00px;font-size:2.75px;line-height:3.300px;color:rgba(255,255,255,0.8);font-weight:bold;">设备维修管理</div>
<div class="t" style="left:67.50px;top:504.00px;font-size:2.75px;line-height:3.300px;color:rgba(255,255,255,0.8);font-weight:bold;">MTBF设备管理</div>
<div style="left:63.70px;top:513.50px;width:2.60px;height:2.60px;background:rgba(255,255,255,0.35);"></div>
<div class="t" style="left:69.00px;top:514.00px;font-size:2.75px;line-height:3.300px;color:rgba(255,255,255,0.8);font-weight:bold;">设备维保</div>
<div style="left:96.10px;top:513.60px;width:1.80px;height:1.80px;background:transparent;border-right:0.5px solid rgba(255,255,255,0.3);border-bottom:0.5px solid rgba(255,255,255,0.3);transform:rotate(45deg);"></div>
<div style="left:63.70px;top:523.70px;width:2.60px;height:2.60px;background:rgba(255,255,255,0.35);"></div>
<div class="t" style="left:69.00px;top:524.00px;font-size:2.75px;line-height:3.300px;color:rgba(255,255,255,0.8);font-weight:bold;">碳资产</div>
<div style="left:96.10px;top:523.80px;width:1.80px;height:1.80px;background:transparent;border-right:0.5px solid rgba(255,255,255,0.3);border-bottom:0.5px solid rgba(255,255,255,0.3);transform:rotate(45deg);"></div>
<div style="left:63.70px;top:533.90px;width:2.60px;height:2.60px;background:rgba(255,255,255,0.35);"></div>
<div class="t" style="left:69.00px;top:534.00px;font-size:2.75px;line-height:3.300px;color:rgba(255,255,255,0.8);font-weight:bold;">数据分析</div>
<div style="left:96.10px;top:534.00px;width:1.80px;height:1.80px;background:transparent;border-right:0.5px solid rgba(255,255,255,0.3);border-bottom:0.5px solid rgba(255,255,255,0.3);transform:rotate(45deg);"></div>
<div style="left:63.70px;top:543.70px;width:2.60px;height:2.60px;background:rgba(255,255,255,0.35);"></div>
<div class="t" style="left:69.00px;top:544.00px;font-size:2.75px;line-height:3.300px;color:rgba(255,255,255,0.8);font-weight:bold;">系统管理</div>
<div style="left:96.10px;top:543.80px;width:1.80px;height:1.80px;background:transparent;border-right:0.5px solid rgba(255,255,255,0.3);border-bottom:0.5px solid rgba(255,255,255,0.3);transform:rotate(45deg);"></div>
<div style="left:106.50px;top:351.60px;width:2.80px;height:2.80px;background:#777;opacity:0.45;"></div>
<div class="t" style="left:113.00px;top:351.00px;font-size:3.86px;line-height:4.632px;color:#333;font-weight:bold;">企业能源管控平台</div>
<div style="left:337.60px;top:352.40px;width:2.80px;height:2.80px;background:transparent;border:0.5px solid rgba(0,0,0,0.3);border-radius:50%;"></div>
<div style="left:345.80px;top:351.70px;width:9.20px;height:5.00px;background:#0aa5a0;border-radius:0.5px;"></div>
<div class="t" style="left:347.20px;top:353.00px;font-size:3.0px;line-height:3.600px;color:#fff;font-weight:bold;">一般</div>
<div style="left:353.80px;top:349.90px;width:3.60px;height:2.70px;background:#0aa5a0;border-radius:1.3px;"></div>
<div style="left:360.30px;top:351.70px;width:9.20px;height:5.00px;background:#f0a030;border-radius:0.5px;"></div>
<div class="t" style="left:361.70px;top:353.00px;font-size:3.0px;line-height:3.600px;color:#fff;font-weight:bold;">重要</div>
<div style="left:368.30px;top:349.90px;width:3.60px;height:2.70px;background:#f0a030;border-radius:1.3px;"></div>
<div style="left:375.00px;top:351.70px;width:9.50px;height:5.00px;background:#f0545a;border-radius:0.5px;"></div>
<div class="t" style="left:376.40px;top:353.00px;font-size:3.0px;line-height:3.600px;color:#fff;font-weight:bold;">严重</div>
<div style="left:383.30px;top:349.90px;width:3.60px;height:2.70px;background:#f0545a;border-radius:1.3px;"></div>
<div class="t" style="left:390.80px;top:353.00px;font-size:2.6px;line-height:3.120px;color:#777;font-weight:normal;">中</div>
<div style="left:400.70px;top:352.70px;width:2.60px;height:2.60px;background:rgba(0,0,0,0.28);"></div>
<div style="left:407.70px;top:352.70px;width:2.60px;height:2.60px;background:rgba(0,0,0,0.28);"></div>
<div style="left:414.70px;top:352.70px;width:2.60px;height:2.60px;background:rgba(0,0,0,0.28);"></div>
<div style="left:421.70px;top:352.70px;width:2.60px;height:2.60px;background:rgba(0,0,0,0.28);"></div>
<div class="t" style="left:428.00px;top:353.00px;font-size:2.6px;line-height:3.120px;color:#777;font-weight:normal;">admin</div>
<div style="left:107.00px;top:360.60px;width:12.00px;height:5.60px;background:#fff;border:0.5px solid #f0f0f0;"></div>
<div class="t" style="left:108.80px;top:363.00px;font-size:2.6px;line-height:3.120px;color:#444;font-weight:normal;">首页 ×</div>
<div style="left:121.00px;top:360.60px;width:16.00px;height:5.60px;background:#fff;border:0.5px solid #f0f0f0;"></div>
<div class="t" style="left:122.80px;top:363.00px;font-size:2.6px;line-height:3.120px;color:#444;font-weight:normal;">设备定义 ×</div>
<div style="left:141.00px;top:360.60px;width:18.00px;height:5.60px;background:#fff;border:0.5px solid #f0f0f0;"></div>
<div class="t" style="left:142.80px;top:363.00px;font-size:2.6px;line-height:3.120px;color:#444;font-weight:normal;">设备档案 ×</div>
<div style="left:161.00px;top:360.60px;width:19.00px;height:5.60px;background:#fff;border:0.5px solid #f0f0f0;"></div>
<div class="t" style="left:162.80px;top:363.00px;font-size:2.6px;line-height:3.120px;color:#444;font-weight:normal;">MTBF看板 ×</div>
<div style="left:183.00px;top:360.60px;width:25.00px;height:5.60px;background:#fff;border:0.5px solid #f0f0f0;"></div>
<div class="t" style="left:184.80px;top:363.00px;font-size:2.6px;line-height:3.120px;color:#444;font-weight:normal;">MTBF设备管理 ×</div>
<div style="left:210.00px;top:360.60px;width:21.00px;height:5.60px;background:#e1f3f3;"></div>
<div class="t" style="left:211.80px;top:363.00px;font-size:2.6px;line-height:3.120px;color:#0a8c88;font-weight:normal;">● 工单管理 ×</div>
<div style="left:102.60px;top:368.80px;width:338.40px;height:0.50px;background:#eeeeee;"></div>
<div style="left:106.60px;top:369.50px;width:331.80px;height:156.50px;background:#fff;border:0.5px solid #f2f2f2;border-top:none;"></div>
<div style="left:106.50px;top:371.70px;width:15.20px;height:6.10px;background:#0aa5a0;border-radius:0.6px;"></div>
<div class="t" style="left:108.50px;top:374.00px;font-size:2.8px;line-height:3.360px;color:#fff;font-weight:bold;">✚ 添加</div>
<div style="left:123.50px;top:371.70px;width:15.30px;height:6.10px;background:#0aa5a0;border-radius:0.6px;"></div>
<div class="t" style="left:125.50px;top:374.00px;font-size:2.8px;line-height:3.360px;color:#fff;font-weight:bold;">✎ 编辑</div>
<div style="left:260.80px;top:371.70px;width:40.50px;height:6.00px;background:#fff;border:0.5px solid #ebebeb;border-radius:0.6px;"></div>
<div class="t" style="left:263.30px;top:374.00px;font-size:2.6px;line-height:3.120px;color:#bbb;font-weight:normal;">流程状态</div>
<div style="left:297.40px;top:373.20px;width:1.80px;height:1.80px;background:transparent;border-right:0.5px solid #bbb;border-bottom:0.5px solid #bbb;transform:rotate(45deg);"></div>
<div style="left:303.30px;top:371.70px;width:48.70px;height:6.00px;background:#fff;border:0.5px solid #ebebeb;border-radius:0.6px;"></div>
<div class="t" style="left:305.80px;top:374.00px;font-size:2.6px;line-height:3.120px;color:#bbb;font-weight:normal;">工单状态</div>
<div style="left:348.10px;top:373.20px;width:1.80px;height:1.80px;background:transparent;border-right:0.5px solid #bbb;border-bottom:0.5px solid #bbb;transform:rotate(45deg);"></div>
<div style="left:355.70px;top:371.70px;width:82.60px;height:6.00px;background:#fff;border:0.5px solid #ebebeb;border-radius:0.6px;"></div>
<div class="t" style="left:358.20px;top:374.00px;font-size:2.6px;line-height:3.120px;color:#bbb;font-weight:normal;">工单</div>
<div style="left:106.60px;top:380.00px;width:331.40px;height:7.60px;background:#06a8a4;"></div>
<div style="left:117.95px;top:380.00px;width:0.50px;height:7.60px;background:rgba(255,255,255,0.22);"></div>
<div style="left:158.25px;top:380.00px;width:0.50px;height:7.60px;background:rgba(255,255,255,0.22);"></div>
<div style="left:198.45px;top:380.00px;width:0.50px;height:7.60px;background:rgba(255,255,255,0.22);"></div>
<div style="left:238.45px;top:380.00px;width:0.50px;height:7.60px;background:rgba(255,255,255,0.22);"></div>
<div style="left:278.05px;top:380.00px;width:0.50px;height:7.60px;background:rgba(255,255,255,0.22);"></div>
<div style="left:318.05px;top:380.00px;width:0.50px;height:7.60px;background:rgba(255,255,255,0.22);"></div>
<div style="left:358.05px;top:380.00px;width:0.50px;height:7.60px;background:rgba(255,255,255,0.22);"></div>
<div style="left:398.05px;top:380.00px;width:0.50px;height:7.60px;background:rgba(255,255,255,0.22);"></div>
<div style="left:111.10px;top:382.50px;width:2.60px;height:2.60px;background:#fff;border:0.5px solid #fff;"></div>
<div class="t" style="left:120.40px;top:383.00px;font-size:2.6px;line-height:3.120px;color:#fff;font-weight:bold;">流程名称</div>
<div class="t" style="left:160.70px;top:383.00px;font-size:2.6px;line-height:3.120px;color:#fff;font-weight:bold;">单号</div>
<div class="t" style="left:200.90px;top:383.00px;font-size:2.6px;line-height:3.120px;color:#fff;font-weight:bold;">设备名称</div>
<div class="t" style="left:240.90px;top:383.00px;font-size:2.6px;line-height:3.120px;color:#fff;font-weight:bold;">设备编号</div>
<div class="t" style="left:280.50px;top:383.00px;font-size:2.6px;line-height:3.120px;color:#fff;font-weight:bold;">类型</div>
<div class="t" style="left:320.50px;top:383.00px;font-size:2.6px;line-height:3.120px;color:#fff;font-weight:bold;">申请时间</div>
<div class="t" style="left:360.50px;top:383.00px;font-size:2.6px;line-height:3.120px;color:#fff;font-weight:bold;">状态</div>
<div class="t" style="left:400.50px;top:383.00px;font-size:2.6px;line-height:3.120px;color:#fff;font-weight:bold;">操作</div>
<div style="left:106.60px;top:395.42px;width:331.40px;height:0.45px;background:#f1f1f1;"></div>
<div style="left:118.00px;top:387.60px;width:0.40px;height:8.17px;background:#f5f5f5;"></div>
<div style="left:158.30px;top:387.60px;width:0.40px;height:8.17px;background:#f5f5f5;"></div>
<div style="left:198.50px;top:387.60px;width:0.40px;height:8.17px;background:#f5f5f5;"></div>
<div style="left:238.50px;top:387.60px;width:0.40px;height:8.17px;background:#f5f5f5;"></div>
<div style="left:278.10px;top:387.60px;width:0.40px;height:8.17px;background:#f5f5f5;"></div>
<div style="left:318.10px;top:387.60px;width:0.40px;height:8.17px;background:#f5f5f5;"></div>
<div style="left:358.10px;top:387.60px;width:0.40px;height:8.17px;background:#f5f5f5;"></div>
<div style="left:398.10px;top:387.60px;width:0.40px;height:8.17px;background:#f5f5f5;"></div>
<div style="left:110.80px;top:390.09px;width:3.20px;height:3.20px;background:#f2f2f2;border:0.5px solid #d6d6d6;"></div>
<div class="t" style="left:120.40px;top:391.00px;font-size:2.6px;line-height:3.120px;color:#444;font-weight:normal;">审核流</div>
<div class="t" style="left:160.70px;top:391.00px;font-size:2.6px;line-height:3.120px;color:#777;font-weight:normal;">1712036822582395216</div>
<div class="t" style="left:200.90px;top:391.00px;font-size:2.6px;line-height:3.120px;color:#555;font-weight:normal;">輸送設机</div>
<div class="t" style="left:240.90px;top:391.00px;font-size:2.6px;line-height:3.120px;color:#777;font-weight:normal;">JJ-019</div>
<div class="t" style="left:280.50px;top:391.00px;font-size:2.6px;line-height:3.120px;color:#555;font-weight:normal;">维保工单</div>
<div class="t" style="left:320.50px;top:391.00px;font-size:2.6px;line-height:3.120px;color:#777;font-weight:normal;">2023-10-11 17:26:27</div>
<div class="t" style="left:360.50px;top:391.00px;font-size:2.6px;line-height:3.120px;color:#444;font-weight:normal;">已审核</div>
<div class="t" style="left:400.50px;top:391.00px;font-size:2.6px;line-height:3.120px;color:#1aa9a3;font-weight:normal;">查看</div>
<div style="left:106.60px;top:403.59px;width:331.40px;height:0.45px;background:#f1f1f1;"></div>
<div style="left:118.00px;top:395.77px;width:0.40px;height:8.17px;background:#f5f5f5;"></div>
<div style="left:158.30px;top:395.77px;width:0.40px;height:8.17px;background:#f5f5f5;"></div>
<div style="left:198.50px;top:395.77px;width:0.40px;height:8.17px;background:#f5f5f5;"></div>
<div style="left:238.50px;top:395.77px;width:0.40px;height:8.17px;background:#f5f5f5;"></div>
<div style="left:278.10px;top:395.77px;width:0.40px;height:8.17px;background:#f5f5f5;"></div>
<div style="left:318.10px;top:395.77px;width:0.40px;height:8.17px;background:#f5f5f5;"></div>
<div style="left:358.10px;top:395.77px;width:0.40px;height:8.17px;background:#f5f5f5;"></div>
<div style="left:398.10px;top:395.77px;width:0.40px;height:8.17px;background:#f5f5f5;"></div>
<div style="left:110.80px;top:398.25px;width:3.20px;height:3.20px;background:#f2f2f2;border:0.5px solid #d6d6d6;"></div>
<div class="t" style="left:120.40px;top:399.00px;font-size:2.6px;line-height:3.120px;color:#444;font-weight:normal;">审核流</div>
<div class="t" style="left:160.70px;top:399.00px;font-size:2.6px;line-height:3.120px;color:#777;font-weight:normal;">1711645209562620972</div>
<div class="t" style="left:200.90px;top:399.00px;font-size:2.6px;line-height:3.120px;color:#555;font-weight:normal;">水泵14</div>
<div class="t" style="left:240.90px;top:399.00px;font-size:2.6px;line-height:3.120px;color:#777;font-weight:normal;">SA-90031</div>
<div class="t" style="left:280.50px;top:399.00px;font-size:2.6px;line-height:3.120px;color:#555;font-weight:normal;">维保工单</div>
<div class="t" style="left:320.50px;top:399.00px;font-size:2.6px;line-height:3.120px;color:#777;font-weight:normal;">2023-10-10 15:30:58</div>
<div class="t" style="left:360.50px;top:399.00px;font-size:2.6px;line-height:3.120px;color:#444;font-weight:normal;">已审核</div>
<div class="t" style="left:400.50px;top:399.00px;font-size:2.6px;line-height:3.120px;color:#1aa9a3;font-weight:normal;">查看</div>
<div style="left:106.60px;top:403.94px;width:331.40px;height:8.17px;background:#f1f7f8;"></div>
<div style="left:106.60px;top:411.76px;width:331.40px;height:0.45px;background:#f1f1f1;"></div>
<div style="left:118.00px;top:403.94px;width:0.40px;height:8.17px;background:#f5f5f5;"></div>
<div style="left:158.30px;top:403.94px;width:0.40px;height:8.17px;background:#f5f5f5;"></div>
<div style="left:198.50px;top:403.94px;width:0.40px;height:8.17px;background:#f5f5f5;"></div>
<div style="left:238.50px;top:403.94px;width:0.40px;height:8.17px;background:#f5f5f5;"></div>
<div style="left:278.10px;top:403.94px;width:0.40px;height:8.17px;background:#f5f5f5;"></div>
<div style="left:318.10px;top:403.94px;width:0.40px;height:8.17px;background:#f5f5f5;"></div>
<div style="left:358.10px;top:403.94px;width:0.40px;height:8.17px;background:#f5f5f5;"></div>
<div style="left:398.10px;top:403.94px;width:0.40px;height:8.17px;background:#f5f5f5;"></div>
<div style="left:110.80px;top:406.42px;width:3.20px;height:3.20px;background:#f2f2f2;border:0.5px solid #d6d6d6;"></div>
<div class="t" style="left:120.40px;top:407.00px;font-size:2.6px;line-height:3.120px;color:#444;font-weight:normal;">审核流</div>
<div class="t" style="left:160.70px;top:407.00px;font-size:2.6px;line-height:3.120px;color:#777;font-weight:normal;">1711645529400045038</div>
<div class="t" style="left:200.90px;top:407.00px;font-size:2.6px;line-height:3.120px;color:#555;font-weight:normal;">水泵14</div>
<div class="t" style="left:240.90px;top:407.00px;font-size:2.6px;line-height:3.120px;color:#777;font-weight:normal;">SA-90031</div>
<div class="t" style="left:280.50px;top:407.00px;font-size:2.6px;line-height:3.120px;color:#555;font-weight:normal;">维保工单</div>
<div class="t" style="left:320.50px;top:407.00px;font-size:2.6px;line-height:3.120px;color:#777;font-weight:normal;">2023-10-10 15:29:35</div>
<div class="t" style="left:360.50px;top:407.00px;font-size:2.6px;line-height:3.120px;color:#444;font-weight:normal;">已审核</div>
<div class="t" style="left:400.50px;top:407.00px;font-size:2.6px;line-height:3.120px;color:#1aa9a3;font-weight:normal;">查看</div>
<div style="left:106.60px;top:419.93px;width:331.40px;height:0.45px;background:#f1f1f1;"></div>
<div style="left:118.00px;top:412.11px;width:0.40px;height:8.17px;background:#f5f5f5;"></div>
<div style="left:158.30px;top:412.11px;width:0.40px;height:8.17px;background:#f5f5f5;"></div>
<div style="left:198.50px;top:412.11px;width:0.40px;height:8.17px;background:#f5f5f5;"></div>
<div style="left:238.50px;top:412.11px;width:0.40px;height:8.17px;background:#f5f5f5;"></div>
<div style="left:278.10px;top:412.11px;width:0.40px;height:8.17px;background:#f5f5f5;"></div>
<div style="left:318.10px;top:412.11px;width:0.40px;height:8.17px;background:#f5f5f5;"></div>
<div style="left:358.10px;top:412.11px;width:0.40px;height:8.17px;background:#f5f5f5;"></div>
<div style="left:398.10px;top:412.11px;width:0.40px;height:8.17px;background:#f5f5f5;"></div>
<div style="left:110.80px;top:414.60px;width:3.20px;height:3.20px;background:#f2f2f2;border:0.5px solid #d6d6d6;"></div>
<div class="t" style="left:120.40px;top:415.00px;font-size:2.6px;line-height:3.120px;color:#444;font-weight:normal;">审核流</div>
<div class="t" style="left:160.70px;top:415.00px;font-size:2.6px;line-height:3.120px;color:#777;font-weight:normal;">1711620054000247712</div>
<div class="t" style="left:200.90px;top:415.00px;font-size:2.6px;line-height:3.120px;color:#555;font-weight:normal;">輸送設机</div>
<div class="t" style="left:240.90px;top:415.00px;font-size:2.6px;line-height:3.120px;color:#777;font-weight:normal;">JJ-019</div>
<div class="t" style="left:280.50px;top:415.00px;font-size:2.6px;line-height:3.120px;color:#555;font-weight:normal;">维保工单</div>
<div class="t" style="left:320.50px;top:415.00px;font-size:2.6px;line-height:3.120px;color:#777;font-weight:normal;">2023-10-10 15:05:31</div>
<div class="t" style="left:360.50px;top:415.00px;font-size:2.6px;line-height:3.120px;color:#444;font-weight:normal;">已审核</div>
<div class="t" style="left:400.50px;top:415.00px;font-size:2.6px;line-height:3.120px;color:#1aa9a3;font-weight:normal;">查看</div>
<div style="left:106.60px;top:428.10px;width:331.40px;height:0.45px;background:#f1f1f1;"></div>
<div style="left:118.00px;top:420.28px;width:0.40px;height:8.17px;background:#f5f5f5;"></div>
<div style="left:158.30px;top:420.28px;width:0.40px;height:8.17px;background:#f5f5f5;"></div>
<div style="left:198.50px;top:420.28px;width:0.40px;height:8.17px;background:#f5f5f5;"></div>
<div style="left:238.50px;top:420.28px;width:0.40px;height:8.17px;background:#f5f5f5;"></div>
<div style="left:278.10px;top:420.28px;width:0.40px;height:8.17px;background:#f5f5f5;"></div>
<div style="left:318.10px;top:420.28px;width:0.40px;height:8.17px;background:#f5f5f5;"></div>
<div style="left:358.10px;top:420.28px;width:0.40px;height:8.17px;background:#f5f5f5;"></div>
<div style="left:398.10px;top:420.28px;width:0.40px;height:8.17px;background:#f5f5f5;"></div>
<div style="left:110.80px;top:422.76px;width:3.20px;height:3.20px;background:#f2f2f2;border:0.5px solid #d6d6d6;"></div>
<div class="t" style="left:160.70px;top:424.00px;font-size:2.6px;line-height:3.120px;color:#777;font-weight:normal;">1677211900566435856</div>
<div class="t" style="left:280.50px;top:424.00px;font-size:2.6px;line-height:3.120px;color:#555;font-weight:normal;">维保工单</div>
<div class="t" style="left:320.50px;top:424.00px;font-size:2.6px;line-height:3.120px;color:#777;font-weight:normal;">2023-07-07 15:24:19</div>
<div class="t" style="left:360.50px;top:424.00px;font-size:2.6px;line-height:3.120px;color:#444;font-weight:normal;">未审核</div>
<div class="t" style="left:400.50px;top:424.00px;font-size:2.6px;line-height:3.120px;color:#1aa9a3;font-weight:normal;">查看</div>
<div style="left:106.60px;top:436.27px;width:331.40px;height:0.45px;background:#f1f1f1;"></div>
<div style="left:118.00px;top:428.45px;width:0.40px;height:8.17px;background:#f5f5f5;"></div>
<div style="left:158.30px;top:428.45px;width:0.40px;height:8.17px;background:#f5f5f5;"></div>
<div style="left:198.50px;top:428.45px;width:0.40px;height:8.17px;background:#f5f5f5;"></div>
<div style="left:238.50px;top:428.45px;width:0.40px;height:8.17px;background:#f5f5f5;"></div>
<div style="left:278.10px;top:428.45px;width:0.40px;height:8.17px;background:#f5f5f5;"></div>
<div style="left:318.10px;top:428.45px;width:0.40px;height:8.17px;background:#f5f5f5;"></div>
<div style="left:358.10px;top:428.45px;width:0.40px;height:8.17px;background:#f5f5f5;"></div>
<div style="left:398.10px;top:428.45px;width:0.40px;height:8.17px;background:#f5f5f5;"></div>
<div style="left:110.80px;top:430.94px;width:3.20px;height:3.20px;background:#f2f2f2;border:0.5px solid #d6d6d6;"></div>
<div class="t" style="left:160.70px;top:432.00px;font-size:2.6px;line-height:3.120px;color:#777;font-weight:normal;">1677211900566435856</div>
<div class="t" style="left:280.50px;top:432.00px;font-size:2.6px;line-height:3.120px;color:#555;font-weight:normal;">维保工单</div>
<div class="t" style="left:320.50px;top:432.00px;font-size:2.6px;line-height:3.120px;color:#777;font-weight:normal;">2023-07-07 15:23:53</div>
<div class="t" style="left:360.50px;top:432.00px;font-size:2.6px;line-height:3.120px;color:#444;font-weight:normal;">未审核</div>
<div class="t" style="left:400.50px;top:432.00px;font-size:2.6px;line-height:3.120px;color:#1aa9a3;font-weight:normal;">查看</div>
<div style="left:106.60px;top:444.44px;width:331.40px;height:0.45px;background:#f1f1f1;"></div>
<div style="left:118.00px;top:436.62px;width:0.40px;height:8.17px;background:#f5f5f5;"></div>
<div style="left:158.30px;top:436.62px;width:0.40px;height:8.17px;background:#f5f5f5;"></div>
<div style="left:198.50px;top:436.62px;width:0.40px;height:8.17px;background:#f5f5f5;"></div>
<div style="left:238.50px;top:436.62px;width:0.40px;height:8.17px;background:#f5f5f5;"></div>
<div style="left:278.10px;top:436.62px;width:0.40px;height:8.17px;background:#f5f5f5;"></div>
<div style="left:318.10px;top:436.62px;width:0.40px;height:8.17px;background:#f5f5f5;"></div>
<div style="left:358.10px;top:436.62px;width:0.40px;height:8.17px;background:#f5f5f5;"></div>
<div style="left:398.10px;top:436.62px;width:0.40px;height:8.17px;background:#f5f5f5;"></div>
<div style="left:110.80px;top:439.11px;width:3.20px;height:3.20px;background:#f2f2f2;border:0.5px solid #d6d6d6;"></div>
<div class="t" style="left:160.70px;top:440.00px;font-size:2.6px;line-height:3.120px;color:#777;font-weight:normal;">1677211900566435856</div>
<div class="t" style="left:280.50px;top:440.00px;font-size:2.6px;line-height:3.120px;color:#555;font-weight:normal;">维保工单</div>
<div class="t" style="left:320.50px;top:440.00px;font-size:2.6px;line-height:3.120px;color:#777;font-weight:normal;">2023-07-07 15:21:40</div>
<div class="t" style="left:360.50px;top:440.00px;font-size:2.6px;line-height:3.120px;color:#444;font-weight:normal;">未审核</div>
<div class="t" style="left:400.50px;top:440.00px;font-size:2.6px;line-height:3.120px;color:#1aa9a3;font-weight:normal;">查看</div>
<div style="left:106.60px;top:452.61px;width:331.40px;height:0.45px;background:#f1f1f1;"></div>
<div style="left:118.00px;top:444.79px;width:0.40px;height:8.17px;background:#f5f5f5;"></div>
<div style="left:158.30px;top:444.79px;width:0.40px;height:8.17px;background:#f5f5f5;"></div>
<div style="left:198.50px;top:444.79px;width:0.40px;height:8.17px;background:#f5f5f5;"></div>
<div style="left:238.50px;top:444.79px;width:0.40px;height:8.17px;background:#f5f5f5;"></div>
<div style="left:278.10px;top:444.79px;width:0.40px;height:8.17px;background:#f5f5f5;"></div>
<div style="left:318.10px;top:444.79px;width:0.40px;height:8.17px;background:#f5f5f5;"></div>
<div style="left:358.10px;top:444.79px;width:0.40px;height:8.17px;background:#f5f5f5;"></div>
<div style="left:398.10px;top:444.79px;width:0.40px;height:8.17px;background:#f5f5f5;"></div>
<div style="left:110.80px;top:447.27px;width:3.20px;height:3.20px;background:#f2f2f2;border:0.5px solid #d6d6d6;"></div>
<div class="t" style="left:160.70px;top:448.00px;font-size:2.6px;line-height:3.120px;color:#777;font-weight:normal;">1677211900566435856</div>
<div class="t" style="left:280.50px;top:448.00px;font-size:2.6px;line-height:3.120px;color:#555;font-weight:normal;">维保工单</div>
<div class="t" style="left:320.50px;top:448.00px;font-size:2.6px;line-height:3.120px;color:#777;font-weight:normal;">2023-07-07 15:04:05</div>
<div class="t" style="left:360.50px;top:448.00px;font-size:2.6px;line-height:3.120px;color:#444;font-weight:normal;">未审核</div>
<div class="t" style="left:400.50px;top:448.00px;font-size:2.6px;line-height:3.120px;color:#1aa9a3;font-weight:normal;">查看</div>
<div style="left:106.60px;top:460.78px;width:331.40px;height:0.45px;background:#f1f1f1;"></div>
<div style="left:118.00px;top:452.96px;width:0.40px;height:8.17px;background:#f5f5f5;"></div>
<div style="left:158.30px;top:452.96px;width:0.40px;height:8.17px;background:#f5f5f5;"></div>
<div style="left:198.50px;top:452.96px;width:0.40px;height:8.17px;background:#f5f5f5;"></div>
<div style="left:238.50px;top:452.96px;width:0.40px;height:8.17px;background:#f5f5f5;"></div>
<div style="left:278.10px;top:452.96px;width:0.40px;height:8.17px;background:#f5f5f5;"></div>
<div style="left:318.10px;top:452.96px;width:0.40px;height:8.17px;background:#f5f5f5;"></div>
<div style="left:358.10px;top:452.96px;width:0.40px;height:8.17px;background:#f5f5f5;"></div>
<div style="left:398.10px;top:452.96px;width:0.40px;height:8.17px;background:#f5f5f5;"></div>
<div style="left:110.80px;top:455.45px;width:3.20px;height:3.20px;background:#f2f2f2;border:0.5px solid #d6d6d6;"></div>
<div class="t" style="left:160.70px;top:456.00px;font-size:2.6px;line-height:3.120px;color:#777;font-weight:normal;">1676120960446232576</div>
<div class="t" style="left:280.50px;top:456.00px;font-size:2.6px;line-height:3.120px;color:#555;font-weight:normal;">维保工单</div>
<div class="t" style="left:320.50px;top:456.00px;font-size:2.6px;line-height:3.120px;color:#777;font-weight:normal;">2023-02-09 15:24:31</div>
<div class="t" style="left:360.50px;top:456.00px;font-size:2.6px;line-height:3.120px;color:#444;font-weight:normal;">未审核</div>
<div class="t" style="left:400.50px;top:456.00px;font-size:2.6px;line-height:3.120px;color:#1aa9a3;font-weight:normal;">查看</div>
<div style="left:106.60px;top:468.95px;width:331.40px;height:0.45px;background:#f1f1f1;"></div>
<div style="left:118.00px;top:461.13px;width:0.40px;height:8.17px;background:#f5f5f5;"></div>
<div style="left:158.30px;top:461.13px;width:0.40px;height:8.17px;background:#f5f5f5;"></div>
<div style="left:198.50px;top:461.13px;width:0.40px;height:8.17px;background:#f5f5f5;"></div>
<div style="left:238.50px;top:461.13px;width:0.40px;height:8.17px;background:#f5f5f5;"></div>
<div style="left:278.10px;top:461.13px;width:0.40px;height:8.17px;background:#f5f5f5;"></div>
<div style="left:318.10px;top:461.13px;width:0.40px;height:8.17px;background:#f5f5f5;"></div>
<div style="left:358.10px;top:461.13px;width:0.40px;height:8.17px;background:#f5f5f5;"></div>
<div style="left:398.10px;top:461.13px;width:0.40px;height:8.17px;background:#f5f5f5;"></div>
<div style="left:110.80px;top:463.62px;width:3.20px;height:3.20px;background:#f2f2f2;border:0.5px solid #d6d6d6;"></div>
<div class="t" style="left:160.70px;top:464.00px;font-size:2.6px;line-height:3.120px;color:#777;font-weight:normal;">1676557766777233808</div>
<div class="t" style="left:280.50px;top:464.00px;font-size:2.6px;line-height:3.120px;color:#555;font-weight:normal;">维保工单</div>
<div class="t" style="left:320.50px;top:464.00px;font-size:2.6px;line-height:3.120px;color:#777;font-weight:normal;">2023-02-08 16:21:11</div>
<div class="t" style="left:360.50px;top:464.00px;font-size:2.6px;line-height:3.120px;color:#444;font-weight:normal;">未审核</div>
<div class="t" style="left:400.50px;top:464.00px;font-size:2.6px;line-height:3.120px;color:#1aa9a3;font-weight:normal;">查看</div>
<div style="left:106.60px;top:477.12px;width:331.40px;height:0.45px;background:#f1f1f1;"></div>
<div style="left:118.00px;top:469.30px;width:0.40px;height:8.17px;background:#f5f5f5;"></div>
<div style="left:158.30px;top:469.30px;width:0.40px;height:8.17px;background:#f5f5f5;"></div>
<div style="left:198.50px;top:469.30px;width:0.40px;height:8.17px;background:#f5f5f5;"></div>
<div style="left:238.50px;top:469.30px;width:0.40px;height:8.17px;background:#f5f5f5;"></div>
<div style="left:278.10px;top:469.30px;width:0.40px;height:8.17px;background:#f5f5f5;"></div>
<div style="left:318.10px;top:469.30px;width:0.40px;height:8.17px;background:#f5f5f5;"></div>
<div style="left:358.10px;top:469.30px;width:0.40px;height:8.17px;background:#f5f5f5;"></div>
<div style="left:398.10px;top:469.30px;width:0.40px;height:8.17px;background:#f5f5f5;"></div>
<div style="left:110.80px;top:471.78px;width:3.20px;height:3.20px;background:#f2f2f2;border:0.5px solid #d6d6d6;"></div>
<div class="t" style="left:160.70px;top:473.00px;font-size:2.6px;line-height:3.120px;color:#777;font-weight:normal;">1676140166609600576</div>
<div class="t" style="left:280.50px;top:473.00px;font-size:2.6px;line-height:3.120px;color:#555;font-weight:normal;">维保工单</div>
<div class="t" style="left:320.50px;top:473.00px;font-size:2.6px;line-height:3.120px;color:#777;font-weight:normal;">2023-02-09 15:02:44</div>
<div class="t" style="left:360.50px;top:473.00px;font-size:2.6px;line-height:3.120px;color:#444;font-weight:normal;">未审核</div>
<div class="t" style="left:400.50px;top:473.00px;font-size:2.6px;line-height:3.120px;color:#1aa9a3;font-weight:normal;">查看</div>
<div style="left:106.60px;top:485.29px;width:331.40px;height:0.45px;background:#f1f1f1;"></div>
<div style="left:118.00px;top:477.47px;width:0.40px;height:8.17px;background:#f5f5f5;"></div>
<div style="left:158.30px;top:477.47px;width:0.40px;height:8.17px;background:#f5f5f5;"></div>
<div style="left:198.50px;top:477.47px;width:0.40px;height:8.17px;background:#f5f5f5;"></div>
<div style="left:238.50px;top:477.47px;width:0.40px;height:8.17px;background:#f5f5f5;"></div>
<div style="left:278.10px;top:477.47px;width:0.40px;height:8.17px;background:#f5f5f5;"></div>
<div style="left:318.10px;top:477.47px;width:0.40px;height:8.17px;background:#f5f5f5;"></div>
<div style="left:358.10px;top:477.47px;width:0.40px;height:8.17px;background:#f5f5f5;"></div>
<div style="left:398.10px;top:477.47px;width:0.40px;height:8.17px;background:#f5f5f5;"></div>
<div style="left:110.80px;top:479.96px;width:3.20px;height:3.20px;background:#f2f2f2;border:0.5px solid #d6d6d6;"></div>
<div class="t" style="left:160.70px;top:481.00px;font-size:2.6px;line-height:3.120px;color:#777;font-weight:normal;">1676129991874068512</div>
<div class="t" style="left:280.50px;top:481.00px;font-size:2.6px;line-height:3.120px;color:#555;font-weight:normal;">维保工单</div>
<div class="t" style="left:320.50px;top:481.00px;font-size:2.6px;line-height:3.120px;color:#777;font-weight:normal;">2023-02-09 14:58:07</div>
<div class="t" style="left:360.50px;top:481.00px;font-size:2.6px;line-height:3.120px;color:#444;font-weight:normal;">未审核</div>
<div class="t" style="left:400.50px;top:481.00px;font-size:2.6px;line-height:3.120px;color:#1aa9a3;font-weight:normal;">查看</div>
<div style="left:106.60px;top:493.46px;width:331.40px;height:0.45px;background:#f1f1f1;"></div>
<div style="left:118.00px;top:485.64px;width:0.40px;height:8.17px;background:#f5f5f5;"></div>
<div style="left:158.30px;top:485.64px;width:0.40px;height:8.17px;background:#f5f5f5;"></div>
<div style="left:198.50px;top:485.64px;width:0.40px;height:8.17px;background:#f5f5f5;"></div>
<div style="left:238.50px;top:485.64px;width:0.40px;height:8.17px;background:#f5f5f5;"></div>
<div style="left:278.10px;top:485.64px;width:0.40px;height:8.17px;background:#f5f5f5;"></div>
<div style="left:318.10px;top:485.64px;width:0.40px;height:8.17px;background:#f5f5f5;"></div>
<div style="left:358.10px;top:485.64px;width:0.40px;height:8.17px;background:#f5f5f5;"></div>
<div style="left:398.10px;top:485.64px;width:0.40px;height:8.17px;background:#f5f5f5;"></div>
<div style="left:110.80px;top:488.12px;width:3.20px;height:3.20px;background:#f2f2f2;border:0.5px solid #d6d6d6;"></div>
<div class="t" style="left:160.70px;top:489.00px;font-size:2.6px;line-height:3.120px;color:#777;font-weight:normal;">1676146285291933440</div>
<div class="t" style="left:280.50px;top:489.00px;font-size:2.6px;line-height:3.120px;color:#555;font-weight:normal;">维保工单</div>
<div class="t" style="left:320.50px;top:489.00px;font-size:2.6px;line-height:3.120px;color:#777;font-weight:normal;">2023-02-09 14:55:11</div>
<div class="t" style="left:360.50px;top:489.00px;font-size:2.6px;line-height:3.120px;color:#444;font-weight:normal;">未审核</div>
<div class="t" style="left:400.50px;top:489.00px;font-size:2.6px;line-height:3.120px;color:#1aa9a3;font-weight:normal;">查看</div>
<div style="left:106.60px;top:501.63px;width:331.40px;height:0.45px;background:#f1f1f1;"></div>
<div style="left:118.00px;top:493.81px;width:0.40px;height:8.17px;background:#f5f5f5;"></div>
<div style="left:158.30px;top:493.81px;width:0.40px;height:8.17px;background:#f5f5f5;"></div>
<div style="left:198.50px;top:493.81px;width:0.40px;height:8.17px;background:#f5f5f5;"></div>
<div style="left:238.50px;top:493.81px;width:0.40px;height:8.17px;background:#f5f5f5;"></div>
<div style="left:278.10px;top:493.81px;width:0.40px;height:8.17px;background:#f5f5f5;"></div>
<div style="left:318.10px;top:493.81px;width:0.40px;height:8.17px;background:#f5f5f5;"></div>
<div style="left:358.10px;top:493.81px;width:0.40px;height:8.17px;background:#f5f5f5;"></div>
<div style="left:398.10px;top:493.81px;width:0.40px;height:8.17px;background:#f5f5f5;"></div>
<div style="left:110.80px;top:496.29px;width:3.20px;height:3.20px;background:#f2f2f2;border:0.5px solid #d6d6d6;"></div>
<div class="t" style="left:160.70px;top:497.00px;font-size:2.6px;line-height:3.120px;color:#777;font-weight:normal;">1610916541720407360</div>
<div class="t" style="left:280.50px;top:497.00px;font-size:2.6px;line-height:3.120px;color:#555;font-weight:normal;">维保工单</div>
<div class="t" style="left:320.50px;top:497.00px;font-size:2.6px;line-height:3.120px;color:#777;font-weight:normal;">2023-01-05 14:27:57</div>
<div class="t" style="left:360.50px;top:497.00px;font-size:2.6px;line-height:3.120px;color:#444;font-weight:normal;">未审核</div>
<div class="t" style="left:400.50px;top:497.00px;font-size:2.6px;line-height:3.120px;color:#1aa9a3;font-weight:normal;">查看</div>
<div style="left:106.60px;top:509.80px;width:331.40px;height:0.45px;background:#f1f1f1;"></div>
<div style="left:118.00px;top:501.98px;width:0.40px;height:8.17px;background:#f5f5f5;"></div>
<div style="left:158.30px;top:501.98px;width:0.40px;height:8.17px;background:#f5f5f5;"></div>
<div style="left:198.50px;top:501.98px;width:0.40px;height:8.17px;background:#f5f5f5;"></div>
<div style="left:238.50px;top:501.98px;width:0.40px;height:8.17px;background:#f5f5f5;"></div>
<div style="left:278.10px;top:501.98px;width:0.40px;height:8.17px;background:#f5f5f5;"></div>
<div style="left:318.10px;top:501.98px;width:0.40px;height:8.17px;background:#f5f5f5;"></div>
<div style="left:358.10px;top:501.98px;width:0.40px;height:8.17px;background:#f5f5f5;"></div>
<div style="left:398.10px;top:501.98px;width:0.40px;height:8.17px;background:#f5f5f5;"></div>
<div style="left:110.80px;top:504.47px;width:3.20px;height:3.20px;background:#f2f2f2;border:0.5px solid #d6d6d6;"></div>
<div class="t" style="left:160.70px;top:505.00px;font-size:2.6px;line-height:3.120px;color:#777;font-weight:normal;">1610916254002405504</div>
<div class="t" style="left:280.50px;top:505.00px;font-size:2.6px;line-height:3.120px;color:#555;font-weight:normal;">维保工单</div>
<div class="t" style="left:320.50px;top:505.00px;font-size:2.6px;line-height:3.120px;color:#777;font-weight:normal;">2023-01-05 14:25:21</div>
<div class="t" style="left:360.50px;top:505.00px;font-size:2.6px;line-height:3.120px;color:#444;font-weight:normal;">未审核</div>
<div class="t" style="left:400.50px;top:505.00px;font-size:2.6px;line-height:3.120px;color:#1aa9a3;font-weight:normal;">查看</div>
<div style="left:106.40px;top:380.00px;width:0.45px;height:130.15px;background:#f2f2f2;"></div>
<div style="left:437.75px;top:380.00px;width:0.45px;height:130.15px;background:#f2f2f2;"></div>
<div class="t" style="left:333.50px;top:531.00px;font-size:2.6px;line-height:3.120px;color:#666;font-weight:normal;">共 48 条</div>
<div style="left:346.50px;top:528.70px;width:20.50px;height:5.60px;background:#fff;border:0.5px solid #ebebeb;border-radius:0.6px;"></div>
<div class="t" style="left:349.00px;top:531.00px;font-size:2.6px;line-height:3.120px;color:#777;font-weight:normal;">10条/页</div>
<div class="t" style="left:372.00px;top:531.00px;font-size:3.3800000000000003px;line-height:4.056px;color:#bbb;font-weight:normal;">‹</div>
<div class="t" style="left:380.00px;top:531.00px;font-size:2.6px;line-height:3.120px;color:#06a8a4;font-weight:bold;">1</div>
<div class="t" style="left:387.20px;top:531.00px;font-size:2.6px;line-height:3.120px;color:#555;font-weight:bold;">2</div>
<div class="t" style="left:394.60px;top:531.00px;font-size:2.6px;line-height:3.120px;color:#555;font-weight:bold;">3</div>
<div class="t" style="left:402.00px;top:531.00px;font-size:2.6px;line-height:3.120px;color:#555;font-weight:bold;">4</div>
<div class="t" style="left:410.00px;top:531.00px;font-size:3.3800000000000003px;line-height:4.056px;color:#bbb;font-weight:normal;">›</div>
<div class="t" style="left:417.50px;top:531.00px;font-size:2.6px;line-height:3.120px;color:#666;font-weight:normal;">前往</div>
<div style="left:424.00px;top:528.70px;width:10.00px;height:5.60px;background:#fff;border:0.5px solid #ebebeb;border-radius:0.6px;"></div>
<div class="t" style="left:428.20px;top:531.00px;font-size:2.6px;line-height:3.120px;color:#666;font-weight:normal;">1</div>
<div class="t" style="left:435.50px;top:531.00px;font-size:2.6px;line-height:3.120px;color:#666;font-weight:normal;">页</div>
<div style="left:484.00px;top:352.00px;width:331.00px;height:189.10px;background:#fff;"></div>
<div style="left:484.00px;top:541.10px;width:331.00px;height:2.40px;background:#f3f3f3;"></div>
<div style="left:442.00px;top:352.00px;width:42.00px;height:192.00px;background:linear-gradient(180deg,#07718d 0%,#0e808b 100%);border-top-left-radius:2px;"></div>
<div style="left:442.00px;top:399.50px;width:42.00px;height:109.70px;background:#0a586b;"></div>
<div style="left:442.00px;top:390.00px;width:42.00px;height:9.50px;background:rgba(0,40,60,0.12);"></div>
<div style="left:442.00px;top:482.00px;width:42.00px;height:9.10px;background:#0b97a0;"></div>
<div style="left:445.70px;top:364.10px;width:2.60px;height:2.60px;background:rgba(255,255,255,0.35);"></div>
<div class="t" style="left:451.00px;top:365.00px;font-size:2.75px;line-height:3.300px;color:rgba(255,255,255,0.8);font-weight:bold;">首页概况</div>
<div style="left:478.10px;top:364.20px;width:1.80px;height:1.80px;background:transparent;border-right:0.5px solid rgba(255,255,255,0.3);border-bottom:0.5px solid rgba(255,255,255,0.3);transform:rotate(45deg);"></div>
<div style="left:445.70px;top:373.80px;width:2.60px;height:2.60px;background:rgba(255,255,255,0.35);"></div>
<div class="t" style="left:451.00px;top:374.00px;font-size:2.75px;line-height:3.300px;color:rgba(255,255,255,0.8);font-weight:bold;">分销监控</div>
<div style="left:478.10px;top:373.90px;width:1.80px;height:1.80px;background:transparent;border-right:0.5px solid rgba(255,255,255,0.3);border-bottom:0.5px solid rgba(255,255,255,0.3);transform:rotate(45deg);"></div>
<div style="left:445.70px;top:383.70px;width:2.60px;height:2.60px;background:rgba(255,255,255,0.35);"></div>
<div class="t" style="left:451.00px;top:384.00px;font-size:2.75px;line-height:3.300px;color:rgba(255,255,255,0.8);font-weight:bold;">电能质量</div>
<div style="left:478.10px;top:383.80px;width:1.80px;height:1.80px;background:transparent;border-right:0.5px solid rgba(255,255,255,0.3);border-bottom:0.5px solid rgba(255,255,255,0.3);transform:rotate(45deg);"></div>
<div style="left:445.70px;top:393.60px;width:2.60px;height:2.60px;background:rgba(255,255,255,0.35);"></div>
<div class="t" style="left:451.00px;top:394.00px;font-size:2.75px;line-height:3.300px;color:rgba(255,255,255,0.8);font-weight:bold;">设备管理</div>
<div style="left:478.10px;top:394.50px;width:1.80px;height:1.80px;background:transparent;border-right:0.5px solid rgba(255,255,255,0.3);border-bottom:0.5px solid rgba(255,255,255,0.3);transform:rotate(-135deg);"></div>
<div class="t" style="left:449.50px;top:404.00px;font-size:2.75px;line-height:3.300px;color:rgba(255,255,255,0.8);font-weight:bold;">设备定义</div>
<div class="t" style="left:449.50px;top:413.00px;font-size:2.75px;line-height:3.300px;color:rgba(255,255,255,0.8);font-weight:bold;">设备档案</div>
<div class="t" style="left:449.50px;top:422.00px;font-size:2.75px;line-height:3.300px;color:rgba(255,255,255,0.8);font-weight:bold;">MTBF看板</div>
<div class="t" style="left:449.50px;top:431.00px;font-size:2.75px;line-height:3.300px;color:rgba(255,255,255,0.8);font-weight:bold;">工单管理</div>
<div class="t" style="left:449.50px;top:440.00px;font-size:2.75px;line-height:3.300px;color:rgba(255,255,255,0.8);font-weight:bold;">维保计划管理</div>
<div class="t" style="left:449.50px;top:449.00px;font-size:2.75px;line-height:3.300px;color:rgba(255,255,255,0.8);font-weight:bold;">设备台账</div>
<div class="t" style="left:449.50px;top:459.00px;font-size:2.75px;line-height:3.300px;color:rgba(255,255,255,0.8);font-weight:bold;">我的工单</div>
<div class="t" style="left:449.50px;top:468.00px;font-size:2.75px;line-height:3.300px;color:rgba(255,255,255,0.8);font-weight:bold;">审批管理</div>
<div class="t" style="left:449.50px;top:477.00px;font-size:2.75px;line-height:3.300px;color:rgba(255,255,255,0.8);font-weight:bold;">出入库管理</div>
<div class="t" style="left:449.50px;top:486.00px;font-size:2.75px;line-height:3.300px;color:rgba(255,255,255,0.8);font-weight:bold;">备品备件管理</div>
<div class="t" style="left:449.50px;top:495.00px;font-size:2.75px;line-height:3.300px;color:rgba(255,255,255,0.8);font-weight:bold;">设备维修管理</div>
<div class="t" style="left:449.50px;top:504.00px;font-size:2.75px;line-height:3.300px;color:rgba(255,255,255,0.8);font-weight:bold;">MTBF设备管理</div>
<div style="left:445.70px;top:513.30px;width:2.60px;height:2.60px;background:rgba(255,255,255,0.35);"></div>
<div class="t" style="left:451.00px;top:514.00px;font-size:2.75px;line-height:3.300px;color:rgba(255,255,255,0.8);font-weight:bold;">设备维保</div>
<div style="left:478.10px;top:513.40px;width:1.80px;height:1.80px;background:transparent;border-right:0.5px solid rgba(255,255,255,0.3);border-bottom:0.5px solid rgba(255,255,255,0.3);transform:rotate(45deg);"></div>
<div style="left:445.70px;top:523.30px;width:2.60px;height:2.60px;background:rgba(255,255,255,0.35);"></div>
<div class="t" style="left:451.00px;top:524.00px;font-size:2.75px;line-height:3.300px;color:rgba(255,255,255,0.8);font-weight:bold;">碳资产</div>
<div style="left:478.10px;top:523.40px;width:1.80px;height:1.80px;background:transparent;border-right:0.5px solid rgba(255,255,255,0.3);border-bottom:0.5px solid rgba(255,255,255,0.3);transform:rotate(45deg);"></div>
<div style="left:445.70px;top:533.10px;width:2.60px;height:2.60px;background:rgba(255,255,255,0.35);"></div>
<div class="t" style="left:451.00px;top:534.00px;font-size:2.75px;line-height:3.300px;color:rgba(255,255,255,0.8);font-weight:bold;">数据分析</div>
<div style="left:478.10px;top:533.20px;width:1.80px;height:1.80px;background:transparent;border-right:0.5px solid rgba(255,255,255,0.3);border-bottom:0.5px solid rgba(255,255,255,0.3);transform:rotate(45deg);"></div>
<div style="left:445.70px;top:542.70px;width:2.60px;height:2.60px;background:rgba(255,255,255,0.35);"></div>
<div class="t" style="left:451.00px;top:543.00px;font-size:2.75px;line-height:3.300px;color:rgba(255,255,255,0.8);font-weight:bold;">系统管理</div>
<div style="left:478.10px;top:542.80px;width:1.80px;height:1.80px;background:transparent;border-right:0.5px solid rgba(255,255,255,0.3);border-bottom:0.5px solid rgba(255,255,255,0.3);transform:rotate(45deg);"></div>
<div style="left:487.40px;top:355.60px;width:2.80px;height:2.80px;background:#777;opacity:0.45;"></div>
<div class="t" style="left:493.90px;top:355.00px;font-size:3.72px;line-height:4.464px;color:#333;font-weight:bold;">企业能源管控平台</div>
<div style="left:713.30px;top:356.40px;width:2.80px;height:2.80px;background:transparent;border:0.5px solid rgba(0,0,0,0.3);border-radius:50%;"></div>
<div style="left:721.20px;top:355.80px;width:9.10px;height:4.50px;background:#0aa5a0;border-radius:0.5px;"></div>
<div class="t" style="left:722.60px;top:357.00px;font-size:2.6999999999999997px;line-height:3.240px;color:#fff;font-weight:bold;">一般</div>
<div style="left:729.10px;top:354.00px;width:3.60px;height:2.70px;background:#0aa5a0;border-radius:1.3px;"></div>
<div style="left:735.50px;top:355.80px;width:9.50px;height:4.50px;background:#f0a030;border-radius:0.5px;"></div>
<div class="t" style="left:736.90px;top:357.00px;font-size:2.6999999999999997px;line-height:3.240px;color:#fff;font-weight:bold;">重要</div>
<div style="left:743.80px;top:354.00px;width:3.60px;height:2.70px;background:#f0a030;border-radius:1.3px;"></div>
<div style="left:750.00px;top:355.80px;width:9.50px;height:4.50px;background:#f0545a;border-radius:0.5px;"></div>
<div class="t" style="left:751.40px;top:357.00px;font-size:2.6999999999999997px;line-height:3.240px;color:#fff;font-weight:bold;">严重</div>
<div style="left:758.30px;top:354.00px;width:3.60px;height:2.70px;background:#f0545a;border-radius:1.3px;"></div>
<div class="t" style="left:765.30px;top:357.00px;font-size:2.6px;line-height:3.120px;color:#777;font-weight:normal;">中</div>
<div style="left:775.20px;top:356.70px;width:2.60px;height:2.60px;background:rgba(0,0,0,0.28);"></div>
<div style="left:782.20px;top:356.70px;width:2.60px;height:2.60px;background:rgba(0,0,0,0.28);"></div>
<div style="left:788.70px;top:356.70px;width:2.60px;height:2.60px;background:rgba(0,0,0,0.28);"></div>
<div style="left:795.20px;top:356.70px;width:2.60px;height:2.60px;background:rgba(0,0,0,0.28);"></div>
<div class="t" style="left:801.00px;top:357.00px;font-size:2.6px;line-height:3.120px;color:#777;font-weight:normal;">admin</div>
<div style="left:487.00px;top:364.60px;width:11.00px;height:5.40px;background:#fff;border:0.5px solid #f0f0f0;"></div>
<div class="t" style="left:488.80px;top:367.00px;font-size:2.6px;line-height:3.120px;color:#444;font-weight:normal;">首页 ×</div>
<div style="left:501.00px;top:364.60px;width:17.00px;height:5.40px;background:#fff;border:0.5px solid #f0f0f0;"></div>
<div class="t" style="left:502.80px;top:367.00px;font-size:2.6px;line-height:3.120px;color:#444;font-weight:normal;">设备定义 ×</div>
<div style="left:521.00px;top:364.60px;width:18.00px;height:5.40px;background:#fff;border:0.5px solid #f0f0f0;"></div>
<div class="t" style="left:522.80px;top:367.00px;font-size:2.6px;line-height:3.120px;color:#444;font-weight:normal;">设备档案 ×</div>
<div style="left:540.00px;top:364.60px;width:20.00px;height:5.40px;background:#fff;border:0.5px solid #f0f0f0;"></div>
<div class="t" style="left:541.80px;top:367.00px;font-size:2.6px;line-height:3.120px;color:#444;font-weight:normal;">MTBF看板 ×</div>
<div style="left:562.00px;top:364.60px;width:25.00px;height:5.40px;background:#fff;border:0.5px solid #f0f0f0;"></div>
<div class="t" style="left:563.80px;top:367.00px;font-size:2.6px;line-height:3.120px;color:#444;font-weight:normal;">MTBF设备管理 ×</div>
<div style="left:591.00px;top:364.60px;width:14.00px;height:5.40px;background:#fff;border:0.5px solid #f0f0f0;"></div>
<div class="t" style="left:592.80px;top:367.00px;font-size:2.6px;line-height:3.120px;color:#444;font-weight:normal;">工单管理 ×</div>
<div style="left:608.00px;top:364.60px;width:18.00px;height:5.40px;background:#fff;border:0.5px solid #f0f0f0;"></div>
<div class="t" style="left:609.80px;top:367.00px;font-size:2.6px;line-height:3.120px;color:#444;font-weight:normal;">审批管理 ×</div>
<div style="left:627.00px;top:364.60px;width:27.20px;height:5.40px;background:#e1f3f3;"></div>
<div class="t" style="left:628.80px;top:367.00px;font-size:2.6px;line-height:3.120px;color:#0a8c88;font-weight:normal;">● 备品备件管理 ×</div>
<div style="left:484.00px;top:372.00px;width:331.00px;height:0.50px;background:#eeeeee;"></div>
<div style="left:487.50px;top:372.80px;width:323.70px;height:152.70px;background:#fff;border:0.5px solid #f2f2f2;border-top:none;"></div>
<div style="left:487.00px;top:375.20px;width:15.00px;height:5.80px;background:#0aa5a0;border-radius:0.6px;"></div>
<div class="t" style="left:489.00px;top:377.00px;font-size:2.8px;line-height:3.360px;color:#fff;font-weight:bold;">✚ 添加</div>
<div style="left:504.00px;top:375.20px;width:15.00px;height:5.80px;background:#0aa5a0;border-radius:0.6px;"></div>
<div class="t" style="left:506.00px;top:377.00px;font-size:2.8px;line-height:3.360px;color:#fff;font-weight:bold;">✎ 编辑</div>
<div style="left:520.50px;top:375.20px;width:15.00px;height:5.80px;background:#f06363;border-radius:0.6px;"></div>
<div class="t" style="left:522.50px;top:377.00px;font-size:2.8px;line-height:3.360px;color:#fff;font-weight:bold;">▢ 删除</div>
<div style="left:703.30px;top:375.30px;width:64.20px;height:5.90px;background:#fff;border:0.5px solid #ebebeb;border-radius:0.6px;"></div>
<div class="t" style="left:705.80px;top:377.00px;font-size:2.6px;line-height:3.120px;color:#bbb;font-weight:normal;">备件号/名称</div>
<div style="left:769.50px;top:375.30px;width:40.00px;height:5.90px;background:#fff;border:0.5px solid #ebebeb;border-radius:0.6px;"></div>
<div class="t" style="left:772.00px;top:377.00px;font-size:2.6px;line-height:3.120px;color:#bbb;font-weight:normal;">供应商</div>
<div style="left:805.60px;top:376.75px;width:1.80px;height:1.80px;background:transparent;border-right:0.5px solid #bbb;border-bottom:0.5px solid #bbb;transform:rotate(45deg);"></div>
<div style="left:487.50px;top:383.20px;width:323.70px;height:7.60px;background:#06a8a4;"></div>
<div style="left:498.05px;top:383.20px;width:0.50px;height:7.60px;background:rgba(255,255,255,0.22);"></div>
<div style="left:531.05px;top:383.20px;width:0.50px;height:7.60px;background:rgba(255,255,255,0.22);"></div>
<div style="left:562.35px;top:383.20px;width:0.50px;height:7.60px;background:rgba(255,255,255,0.22);"></div>
<div style="left:593.35px;top:383.20px;width:0.50px;height:7.60px;background:rgba(255,255,255,0.22);"></div>
<div style="left:624.45px;top:383.20px;width:0.50px;height:7.60px;background:rgba(255,255,255,0.22);"></div>
<div style="left:655.25px;top:383.20px;width:0.50px;height:7.60px;background:rgba(255,255,255,0.22);"></div>
<div style="left:686.45px;top:383.20px;width:0.50px;height:7.60px;background:rgba(255,255,255,0.22);"></div>
<div style="left:718.05px;top:383.20px;width:0.50px;height:7.60px;background:rgba(255,255,255,0.22);"></div>
<div style="left:749.25px;top:383.20px;width:0.50px;height:7.60px;background:rgba(255,255,255,0.22);"></div>
<div style="left:780.25px;top:383.20px;width:0.50px;height:7.60px;background:rgba(255,255,255,0.22);"></div>
<div style="left:491.60px;top:385.70px;width:2.60px;height:2.60px;background:#fff;border:0.5px solid #fff;"></div>
<div class="t" style="left:500.50px;top:386.00px;font-size:2.6px;line-height:3.120px;color:#fff;font-weight:bold;">流程名称</div>
<div class="t" style="left:533.50px;top:386.00px;font-size:2.6px;line-height:3.120px;color:#fff;font-weight:bold;">备件号</div>
<div class="t" style="left:564.80px;top:386.00px;font-size:2.6px;line-height:3.120px;color:#fff;font-weight:bold;">名称</div>
<div class="t" style="left:595.80px;top:386.00px;font-size:2.6px;line-height:3.120px;color:#fff;font-weight:bold;">规格型号</div>
<div class="t" style="left:626.90px;top:386.00px;font-size:2.6px;line-height:3.120px;color:#fff;font-weight:bold;">类型</div>
<div class="t" style="left:657.70px;top:386.00px;font-size:2.6px;line-height:3.120px;color:#fff;font-weight:bold;">库存量</div>
<div class="t" style="left:688.90px;top:386.00px;font-size:2.6px;line-height:3.120px;color:#fff;font-weight:bold;">最低库存</div>
<div class="t" style="left:720.50px;top:386.00px;font-size:2.6px;line-height:3.120px;color:#fff;font-weight:bold;">最高库存</div>
<div class="t" style="left:751.70px;top:386.00px;font-size:2.6px;line-height:3.120px;color:#fff;font-weight:bold;">单价</div>
<div class="t" style="left:782.70px;top:386.00px;font-size:2.6px;line-height:3.120px;color:#fff;font-weight:bold;">操作</div>
<div style="left:487.50px;top:398.38px;width:323.70px;height:0.45px;background:#f1f1f1;"></div>
<div style="left:498.10px;top:390.80px;width:0.40px;height:7.93px;background:#f5f5f5;"></div>
<div style="left:531.10px;top:390.80px;width:0.40px;height:7.93px;background:#f5f5f5;"></div>
<div style="left:562.40px;top:390.80px;width:0.40px;height:7.93px;background:#f5f5f5;"></div>
<div style="left:593.40px;top:390.80px;width:0.40px;height:7.93px;background:#f5f5f5;"></div>
<div style="left:624.50px;top:390.80px;width:0.40px;height:7.93px;background:#f5f5f5;"></div>
<div style="left:655.30px;top:390.80px;width:0.40px;height:7.93px;background:#f5f5f5;"></div>
<div style="left:686.50px;top:390.80px;width:0.40px;height:7.93px;background:#f5f5f5;"></div>
<div style="left:718.10px;top:390.80px;width:0.40px;height:7.93px;background:#f5f5f5;"></div>
<div style="left:749.30px;top:390.80px;width:0.40px;height:7.93px;background:#f5f5f5;"></div>
<div style="left:780.30px;top:390.80px;width:0.40px;height:7.93px;background:#f5f5f5;"></div>
<div style="left:491.30px;top:393.16px;width:3.20px;height:3.20px;background:#f2f2f2;border:0.5px solid #d6d6d6;"></div>
<div class="t" style="left:500.50px;top:394.00px;font-size:2.6px;line-height:3.120px;color:#444;font-weight:normal;">审核流</div>
<div class="t" style="left:533.50px;top:394.00px;font-size:2.6px;line-height:3.120px;color:#555;font-weight:normal;">回护器</div>
<div class="t" style="left:564.80px;top:394.00px;font-size:2.6px;line-height:3.120px;color:#555;font-weight:normal;">回护器</div>
<div class="t" style="left:595.80px;top:394.00px;font-size:2.6px;line-height:3.120px;color:#555;font-weight:normal;">回护器</div>
<div class="t" style="left:626.90px;top:394.00px;font-size:2.6px;line-height:3.120px;color:#555;font-weight:normal;">回护器</div>
<div class="t" style="left:657.70px;top:394.00px;font-size:2.6px;line-height:3.120px;color:#f05050;font-weight:normal;">22</div>
<div class="t" style="left:688.90px;top:394.00px;font-size:2.6px;line-height:3.120px;color:#777;font-weight:normal;">33</div>
<div class="t" style="left:720.50px;top:394.00px;font-size:2.6px;line-height:3.120px;color:#777;font-weight:normal;">1</div>
<div class="t" style="left:751.70px;top:394.00px;font-size:2.6px;line-height:3.120px;color:#777;font-weight:normal;">3.00</div>
<div class="t" style="left:782.70px;top:394.00px;font-size:2.6px;line-height:3.120px;color:#1aa9a3;font-weight:normal;">查看</div>
<div style="left:487.50px;top:406.31px;width:323.70px;height:0.45px;background:#f1f1f1;"></div>
<div style="left:498.10px;top:398.73px;width:0.40px;height:7.93px;background:#f5f5f5;"></div>
<div style="left:531.10px;top:398.73px;width:0.40px;height:7.93px;background:#f5f5f5;"></div>
<div style="left:562.40px;top:398.73px;width:0.40px;height:7.93px;background:#f5f5f5;"></div>
<div style="left:593.40px;top:398.73px;width:0.40px;height:7.93px;background:#f5f5f5;"></div>
<div style="left:624.50px;top:398.73px;width:0.40px;height:7.93px;background:#f5f5f5;"></div>
<div style="left:655.30px;top:398.73px;width:0.40px;height:7.93px;background:#f5f5f5;"></div>
<div style="left:686.50px;top:398.73px;width:0.40px;height:7.93px;background:#f5f5f5;"></div>
<div style="left:718.10px;top:398.73px;width:0.40px;height:7.93px;background:#f5f5f5;"></div>
<div style="left:749.30px;top:398.73px;width:0.40px;height:7.93px;background:#f5f5f5;"></div>
<div style="left:780.30px;top:398.73px;width:0.40px;height:7.93px;background:#f5f5f5;"></div>
<div style="left:491.30px;top:401.10px;width:3.20px;height:3.20px;background:#f2f2f2;border:0.5px solid #d6d6d6;"></div>
<div class="t" style="left:533.50px;top:402.00px;font-size:2.6px;line-height:3.120px;color:#777;font-weight:normal;">10003</div>
<div class="t" style="left:564.80px;top:402.00px;font-size:2.6px;line-height:3.120px;color:#555;font-weight:normal;">金属带钢</div>
<div class="t" style="left:595.80px;top:402.00px;font-size:2.6px;line-height:3.120px;color:#777;font-weight:normal;">C-1</div>
<div class="t" style="left:626.90px;top:402.00px;font-size:2.6px;line-height:3.120px;color:#555;font-weight:normal;">圆件</div>
<div class="t" style="left:657.70px;top:402.00px;font-size:2.6px;line-height:3.120px;color:#777;font-weight:normal;">60</div>
<div class="t" style="left:688.90px;top:402.00px;font-size:2.6px;line-height:3.120px;color:#777;font-weight:normal;">20</div>
<div class="t" style="left:720.50px;top:402.00px;font-size:2.6px;line-height:3.120px;color:#777;font-weight:normal;">5</div>
<div class="t" style="left:751.70px;top:402.00px;font-size:2.6px;line-height:3.120px;color:#777;font-weight:normal;">56.00</div>
<div class="t" style="left:782.70px;top:402.00px;font-size:2.6px;line-height:3.120px;color:#1aa9a3;font-weight:normal;">查看</div>
<div style="left:487.50px;top:414.24px;width:323.70px;height:0.45px;background:#f1f1f1;"></div>
<div style="left:498.10px;top:406.66px;width:0.40px;height:7.93px;background:#f5f5f5;"></div>
<div style="left:531.10px;top:406.66px;width:0.40px;height:7.93px;background:#f5f5f5;"></div>
<div style="left:562.40px;top:406.66px;width:0.40px;height:7.93px;background:#f5f5f5;"></div>
<div style="left:593.40px;top:406.66px;width:0.40px;height:7.93px;background:#f5f5f5;"></div>
<div style="left:624.50px;top:406.66px;width:0.40px;height:7.93px;background:#f5f5f5;"></div>
<div style="left:655.30px;top:406.66px;width:0.40px;height:7.93px;background:#f5f5f5;"></div>
<div style="left:686.50px;top:406.66px;width:0.40px;height:7.93px;background:#f5f5f5;"></div>
<div style="left:718.10px;top:406.66px;width:0.40px;height:7.93px;background:#f5f5f5;"></div>
<div style="left:749.30px;top:406.66px;width:0.40px;height:7.93px;background:#f5f5f5;"></div>
<div style="left:780.30px;top:406.66px;width:0.40px;height:7.93px;background:#f5f5f5;"></div>
<div style="left:491.30px;top:409.02px;width:3.20px;height:3.20px;background:#f2f2f2;border:0.5px solid #d6d6d6;"></div>
<div class="t" style="left:533.50px;top:410.00px;font-size:2.6px;line-height:3.120px;color:#777;font-weight:normal;">10002</div>
<div class="t" style="left:564.80px;top:410.00px;font-size:2.6px;line-height:3.120px;color:#555;font-weight:normal;">电路主机</div>
<div class="t" style="left:595.80px;top:410.00px;font-size:2.6px;line-height:3.120px;color:#777;font-weight:normal;">B-1</div>
<div class="t" style="left:626.90px;top:410.00px;font-size:2.6px;line-height:3.120px;color:#555;font-weight:normal;">部件</div>
<div class="t" style="left:657.70px;top:410.00px;font-size:2.6px;line-height:3.120px;color:#777;font-weight:normal;">31</div>
<div class="t" style="left:688.90px;top:410.00px;font-size:2.6px;line-height:3.120px;color:#777;font-weight:normal;">5</div>
<div class="t" style="left:720.50px;top:410.00px;font-size:2.6px;line-height:3.120px;color:#777;font-weight:normal;">10</div>
<div class="t" style="left:751.70px;top:410.00px;font-size:2.6px;line-height:3.120px;color:#777;font-weight:normal;">2000.00</div>
<div class="t" style="left:782.70px;top:410.00px;font-size:2.6px;line-height:3.120px;color:#1aa9a3;font-weight:normal;">查看</div>
<div style="left:487.50px;top:422.17px;width:323.70px;height:0.45px;background:#f1f1f1;"></div>
<div style="left:498.10px;top:414.59px;width:0.40px;height:7.93px;background:#f5f5f5;"></div>
<div style="left:531.10px;top:414.59px;width:0.40px;height:7.93px;background:#f5f5f5;"></div>
<div style="left:562.40px;top:414.59px;width:0.40px;height:7.93px;background:#f5f5f5;"></div>
<div style="left:593.40px;top:414.59px;width:0.40px;height:7.93px;background:#f5f5f5;"></div>
<div style="left:624.50px;top:414.59px;width:0.40px;height:7.93px;background:#f5f5f5;"></div>
<div style="left:655.30px;top:414.59px;width:0.40px;height:7.93px;background:#f5f5f5;"></div>
<div style="left:686.50px;top:414.59px;width:0.40px;height:7.93px;background:#f5f5f5;"></div>
<div style="left:718.10px;top:414.59px;width:0.40px;height:7.93px;background:#f5f5f5;"></div>
<div style="left:749.30px;top:414.59px;width:0.40px;height:7.93px;background:#f5f5f5;"></div>
<div style="left:780.30px;top:414.59px;width:0.40px;height:7.93px;background:#f5f5f5;"></div>
<div style="left:491.30px;top:416.96px;width:3.20px;height:3.20px;background:#f2f2f2;border:0.5px solid #d6d6d6;"></div>
<div class="t" style="left:533.50px;top:418.00px;font-size:2.6px;line-height:3.120px;color:#777;font-weight:normal;">10001</div>
<div class="t" style="left:564.80px;top:418.00px;font-size:2.6px;line-height:3.120px;color:#555;font-weight:normal;">齿模削弱</div>
<div class="t" style="left:595.80px;top:418.00px;font-size:2.6px;line-height:3.120px;color:#777;font-weight:normal;">A-1</div>
<div class="t" style="left:626.90px;top:418.00px;font-size:2.6px;line-height:3.120px;color:#555;font-weight:normal;">滑轮</div>
<div class="t" style="left:657.70px;top:418.00px;font-size:2.6px;line-height:3.120px;color:#f05050;font-weight:normal;">1</div>
<div class="t" style="left:688.90px;top:418.00px;font-size:2.6px;line-height:3.120px;color:#777;font-weight:normal;">10</div>
<div class="t" style="left:720.50px;top:418.00px;font-size:2.6px;line-height:3.120px;color:#777;font-weight:normal;">20</div>
<div class="t" style="left:751.70px;top:418.00px;font-size:2.6px;line-height:3.120px;color:#777;font-weight:normal;">150.00</div>
<div class="t" style="left:782.70px;top:418.00px;font-size:2.6px;line-height:3.120px;color:#1aa9a3;font-weight:normal;">查看</div>
<div style="left:487.30px;top:383.20px;width:0.45px;height:39.32px;background:#f2f2f2;"></div>
<div style="left:810.95px;top:383.20px;width:0.45px;height:39.32px;background:#f2f2f2;"></div>
<div class="t" style="left:731.50px;top:530.00px;font-size:2.6px;line-height:3.120px;color:#666;font-weight:normal;">共 4 条</div>
<div style="left:743.50px;top:528.30px;width:19.50px;height:5.60px;background:#fff;border:0.5px solid #ebebeb;border-radius:0.6px;"></div>
<div class="t" style="left:746.00px;top:530.00px;font-size:2.6px;line-height:3.120px;color:#777;font-weight:normal;">10条/页</div>
<div class="t" style="left:768.00px;top:530.00px;font-size:3.3800000000000003px;line-height:4.056px;color:#bbb;font-weight:normal;">‹</div>
<div class="t" style="left:775.80px;top:530.00px;font-size:2.6px;line-height:3.120px;color:#06a8a4;font-weight:bold;">1</div>
<div class="t" style="left:783.50px;top:530.00px;font-size:3.3800000000000003px;line-height:4.056px;color:#bbb;font-weight:normal;">›</div>
<div class="t" style="left:791.50px;top:530.00px;font-size:2.6px;line-height:3.120px;color:#666;font-weight:normal;">前往</div>
<div style="left:797.50px;top:528.30px;width:9.50px;height:5.60px;background:#fff;border:0.5px solid #ebebeb;border-radius:0.6px;"></div>
<div class="t" style="left:801.45px;top:530.00px;font-size:2.6px;line-height:3.120px;color:#666;font-weight:normal;">1</div>
<div class="t" style="left:808.50px;top:530.00px;font-size:2.6px;line-height:3.120px;color:#666;font-weight:normal;">页</div>
<div style="left:858.40px;top:352.00px;width:344.60px;height:197.00px;background:#fff;"></div>
<div style="left:858.40px;top:549.00px;width:344.60px;height:2.40px;background:#f3f3f3;"></div>
<div style="left:815.00px;top:352.00px;width:43.40px;height:199.70px;background:linear-gradient(180deg,#07718d 0%,#0e808b 100%);border-top-left-radius:2px;"></div>
<div style="left:815.00px;top:401.60px;width:43.40px;height:114.30px;background:#0a586b;"></div>
<div style="left:815.00px;top:391.40px;width:43.40px;height:10.20px;background:rgba(0,40,60,0.12);"></div>
<div style="left:815.00px;top:439.70px;width:43.40px;height:9.50px;background:#0b97a0;"></div>
<div style="left:818.70px;top:364.60px;width:2.60px;height:2.60px;background:rgba(255,255,255,0.35);"></div>
<div class="t" style="left:824.00px;top:365.00px;font-size:2.75px;line-height:3.300px;color:rgba(255,255,255,0.8);font-weight:bold;">首页概况</div>
<div style="left:851.10px;top:364.70px;width:1.80px;height:1.80px;background:transparent;border-right:0.5px solid rgba(255,255,255,0.3);border-bottom:0.5px solid rgba(255,255,255,0.3);transform:rotate(45deg);"></div>
<div style="left:818.70px;top:374.70px;width:2.60px;height:2.60px;background:rgba(255,255,255,0.35);"></div>
<div class="t" style="left:824.00px;top:375.00px;font-size:2.75px;line-height:3.300px;color:rgba(255,255,255,0.8);font-weight:bold;">分销监控</div>
<div style="left:851.10px;top:374.80px;width:1.80px;height:1.80px;background:transparent;border-right:0.5px solid rgba(255,255,255,0.3);border-bottom:0.5px solid rgba(255,255,255,0.3);transform:rotate(45deg);"></div>
<div style="left:818.70px;top:385.00px;width:2.60px;height:2.60px;background:rgba(255,255,255,0.35);"></div>
<div class="t" style="left:824.00px;top:386.00px;font-size:2.75px;line-height:3.300px;color:rgba(255,255,255,0.8);font-weight:bold;">电能质量</div>
<div style="left:851.10px;top:385.10px;width:1.80px;height:1.80px;background:transparent;border-right:0.5px solid rgba(255,255,255,0.3);border-bottom:0.5px solid rgba(255,255,255,0.3);transform:rotate(45deg);"></div>
<div style="left:818.70px;top:395.20px;width:2.60px;height:2.60px;background:rgba(255,255,255,0.35);"></div>
<div class="t" style="left:824.00px;top:396.00px;font-size:2.75px;line-height:3.300px;color:rgba(255,255,255,0.8);font-weight:bold;">设备管理</div>
<div style="left:851.10px;top:396.10px;width:1.80px;height:1.80px;background:transparent;border-right:0.5px solid rgba(255,255,255,0.3);border-bottom:0.5px solid rgba(255,255,255,0.3);transform:rotate(-135deg);"></div>
<div class="t" style="left:822.50px;top:406.00px;font-size:2.75px;line-height:3.300px;color:rgba(255,255,255,0.8);font-weight:bold;">设备定义</div>
<div class="t" style="left:822.50px;top:415.00px;font-size:2.75px;line-height:3.300px;color:rgba(255,255,255,0.8);font-weight:bold;">设备档案</div>
<div class="t" style="left:822.50px;top:425.00px;font-size:2.75px;line-height:3.300px;color:rgba(255,255,255,0.8);font-weight:bold;">MTBF看板</div>
<div class="t" style="left:822.50px;top:434.00px;font-size:2.75px;line-height:3.300px;color:rgba(255,255,255,0.8);font-weight:bold;">工单管理</div>
<div class="t" style="left:822.50px;top:444.00px;font-size:2.75px;line-height:3.300px;color:rgba(255,255,255,0.8);font-weight:bold;">维保计划管理</div>
<div class="t" style="left:822.50px;top:454.00px;font-size:2.75px;line-height:3.300px;color:rgba(255,255,255,0.8);font-weight:bold;">设备台账</div>
<div class="t" style="left:822.50px;top:463.00px;font-size:2.75px;line-height:3.300px;color:rgba(255,255,255,0.8);font-weight:bold;">我的工单</div>
<div class="t" style="left:822.50px;top:473.00px;font-size:2.75px;line-height:3.300px;color:rgba(255,255,255,0.8);font-weight:bold;">审批管理</div>
<div class="t" style="left:822.50px;top:482.00px;font-size:2.75px;line-height:3.300px;color:rgba(255,255,255,0.8);font-weight:bold;">出入库管理</div>
<div class="t" style="left:822.50px;top:492.00px;font-size:2.75px;line-height:3.300px;color:rgba(255,255,255,0.8);font-weight:bold;">备品备件管理</div>
<div class="t" style="left:822.50px;top:501.00px;font-size:2.75px;line-height:3.300px;color:rgba(255,255,255,0.8);font-weight:bold;">设备维修管理</div>
<div class="t" style="left:822.50px;top:511.00px;font-size:2.75px;line-height:3.300px;color:rgba(255,255,255,0.8);font-weight:bold;">MTBF设备管理</div>
<div style="left:818.70px;top:520.20px;width:2.60px;height:2.60px;background:rgba(255,255,255,0.35);"></div>
<div class="t" style="left:824.00px;top:521.00px;font-size:2.75px;line-height:3.300px;color:rgba(255,255,255,0.8);font-weight:bold;">设备维保</div>
<div style="left:851.10px;top:520.30px;width:1.80px;height:1.80px;background:transparent;border-right:0.5px solid rgba(255,255,255,0.3);border-bottom:0.5px solid rgba(255,255,255,0.3);transform:rotate(45deg);"></div>
<div style="left:818.70px;top:530.40px;width:2.60px;height:2.60px;background:rgba(255,255,255,0.35);"></div>
<div class="t" style="left:824.00px;top:531.00px;font-size:2.75px;line-height:3.300px;color:rgba(255,255,255,0.8);font-weight:bold;">碳资产</div>
<div style="left:851.10px;top:530.50px;width:1.80px;height:1.80px;background:transparent;border-right:0.5px solid rgba(255,255,255,0.3);border-bottom:0.5px solid rgba(255,255,255,0.3);transform:rotate(45deg);"></div>
<div style="left:818.70px;top:540.70px;width:2.60px;height:2.60px;background:rgba(255,255,255,0.35);"></div>
<div class="t" style="left:824.00px;top:541.00px;font-size:2.75px;line-height:3.300px;color:rgba(255,255,255,0.8);font-weight:bold;">数据分析</div>
<div style="left:851.10px;top:540.80px;width:1.80px;height:1.80px;background:transparent;border-right:0.5px solid rgba(255,255,255,0.3);border-bottom:0.5px solid rgba(255,255,255,0.3);transform:rotate(45deg);"></div>
<div style="left:818.70px;top:550.70px;width:2.60px;height:2.60px;background:rgba(255,255,255,0.35);"></div>
<div class="t" style="left:824.00px;top:551.00px;font-size:2.75px;line-height:3.300px;color:rgba(255,255,255,0.8);font-weight:bold;">系统管理</div>
<div style="left:851.10px;top:550.80px;width:1.80px;height:1.80px;background:transparent;border-right:0.5px solid rgba(255,255,255,0.3);border-bottom:0.5px solid rgba(255,255,255,0.3);transform:rotate(45deg);"></div>
<div style="left:862.30px;top:355.60px;width:2.80px;height:2.80px;background:#777;opacity:0.45;"></div>
<div class="t" style="left:869.00px;top:355.00px;font-size:3.9px;line-height:4.680px;color:#333;font-weight:bold;">企业能源管控平台</div>
<div style="left:1097.10px;top:356.70px;width:2.80px;height:2.80px;background:transparent;border:0.5px solid rgba(0,0,0,0.3);border-radius:50%;"></div>
<div style="left:1105.00px;top:355.80px;width:10.00px;height:5.00px;background:#0aa5a0;border-radius:0.5px;"></div>
<div class="t" style="left:1106.40px;top:358.00px;font-size:3.0px;line-height:3.600px;color:#fff;font-weight:bold;">一般</div>
<div style="left:1113.80px;top:354.00px;width:3.60px;height:2.70px;background:#0aa5a0;border-radius:1.3px;"></div>
<div style="left:1120.00px;top:355.80px;width:10.00px;height:5.00px;background:#f0a030;border-radius:0.5px;"></div>
<div class="t" style="left:1121.40px;top:358.00px;font-size:3.0px;line-height:3.600px;color:#fff;font-weight:bold;">重要</div>
<div style="left:1128.80px;top:354.00px;width:3.60px;height:2.70px;background:#f0a030;border-radius:1.3px;"></div>
<div style="left:1135.00px;top:355.80px;width:10.00px;height:5.00px;background:#f0545a;border-radius:0.5px;"></div>
<div class="t" style="left:1136.40px;top:358.00px;font-size:3.0px;line-height:3.600px;color:#fff;font-weight:bold;">严重</div>
<div style="left:1143.80px;top:354.00px;width:3.60px;height:2.70px;background:#f0545a;border-radius:1.3px;"></div>
<div class="t" style="left:1150.80px;top:358.00px;font-size:2.6px;line-height:3.120px;color:#777;font-weight:normal;">中</div>
<div style="left:1161.70px;top:357.00px;width:2.60px;height:2.60px;background:rgba(0,0,0,0.28);"></div>
<div style="left:1168.70px;top:357.00px;width:2.60px;height:2.60px;background:rgba(0,0,0,0.28);"></div>
<div style="left:1175.70px;top:357.00px;width:2.60px;height:2.60px;background:rgba(0,0,0,0.28);"></div>
<div style="left:1182.70px;top:357.00px;width:2.60px;height:2.60px;background:rgba(0,0,0,0.28);"></div>
<div class="t" style="left:1189.00px;top:358.00px;font-size:2.6px;line-height:3.120px;color:#777;font-weight:normal;">admin</div>
<div style="left:862.00px;top:365.00px;width:12.00px;height:5.80px;background:#fff;border:0.5px solid #f0f0f0;"></div>
<div class="t" style="left:863.80px;top:367.00px;font-size:2.6px;line-height:3.120px;color:#444;font-weight:normal;">首页 ×</div>
<div style="left:876.00px;top:365.00px;width:19.00px;height:5.80px;background:#fff;border:0.5px solid #f0f0f0;"></div>
<div class="t" style="left:877.80px;top:367.00px;font-size:2.6px;line-height:3.120px;color:#444;font-weight:normal;">设备定义 ×</div>
<div style="left:897.00px;top:365.00px;width:19.00px;height:5.80px;background:#fff;border:0.5px solid #f0f0f0;"></div>
<div class="t" style="left:898.80px;top:367.00px;font-size:2.6px;line-height:3.120px;color:#444;font-weight:normal;">设备档案 ×</div>
<div style="left:918.00px;top:365.00px;width:19.00px;height:5.80px;background:#fff;border:0.5px solid #f0f0f0;"></div>
<div class="t" style="left:919.80px;top:367.00px;font-size:2.6px;line-height:3.120px;color:#444;font-weight:normal;">MTBF看板 ×</div>
<div style="left:940.00px;top:365.00px;width:26.00px;height:5.80px;background:#fff;border:0.5px solid #f0f0f0;"></div>
<div class="t" style="left:941.80px;top:367.00px;font-size:2.6px;line-height:3.120px;color:#444;font-weight:normal;">MTBF设备管理 ×</div>
<div style="left:968.00px;top:365.00px;width:18.00px;height:5.80px;background:#fff;border:0.5px solid #f0f0f0;"></div>
<div class="t" style="left:969.80px;top:367.00px;font-size:2.6px;line-height:3.120px;color:#444;font-weight:normal;">工单管理 ×</div>
<div style="left:988.00px;top:365.00px;width:18.00px;height:5.80px;background:#fff;border:0.5px solid #f0f0f0;"></div>
<div class="t" style="left:989.80px;top:367.00px;font-size:2.6px;line-height:3.120px;color:#444;font-weight:normal;">审批管理 ×</div>
<div style="left:1008.30px;top:365.00px;width:23.70px;height:5.80px;background:#fff;border:0.5px solid #f0f0f0;"></div>
<div class="t" style="left:1010.10px;top:367.00px;font-size:2.6px;line-height:3.120px;color:#444;font-weight:normal;">备品备件管理 ×</div>
<div style="left:1034.00px;top:365.00px;width:27.70px;height:5.80px;background:#e1f3f3;"></div>
<div class="t" style="left:1035.80px;top:367.00px;font-size:2.6px;line-height:3.120px;color:#0a8c88;font-weight:normal;">● 维保计划管理 ×</div>
<div style="left:858.40px;top:372.20px;width:344.60px;height:0.50px;background:#eeeeee;"></div>
<div style="left:862.50px;top:373.00px;width:337.20px;height:160.30px;background:#fff;border:0.5px solid #f2f2f2;border-top:none;"></div>
<div style="left:862.00px;top:376.20px;width:15.80px;height:5.80px;background:#0aa5a0;border-radius:0.6px;"></div>
<div class="t" style="left:864.00px;top:378.00px;font-size:2.8px;line-height:3.360px;color:#fff;font-weight:bold;">✚ 添加</div>
<div style="left:879.50px;top:376.20px;width:15.50px;height:5.80px;background:#0aa5a0;border-radius:0.6px;"></div>
<div class="t" style="left:881.50px;top:378.00px;font-size:2.8px;line-height:3.360px;color:#fff;font-weight:bold;">✎ 编辑</div>
<div style="left:896.80px;top:376.20px;width:15.20px;height:5.80px;background:#f06363;border-radius:0.6px;"></div>
<div class="t" style="left:898.80px;top:378.00px;font-size:2.8px;line-height:3.360px;color:#fff;font-weight:bold;">▢ 删除</div>
<div style="left:1052.50px;top:376.30px;width:50.50px;height:6.20px;background:#fff;border:0.5px solid #ebebeb;border-radius:0.6px;"></div>
<div class="t" style="left:1055.00px;top:379.00px;font-size:2.6px;line-height:3.120px;color:#bbb;font-weight:normal;">单号</div>
<div style="left:1105.00px;top:376.30px;width:41.50px;height:6.20px;background:#fff;border:0.5px solid #ebebeb;border-radius:0.6px;"></div>
<div class="t" style="left:1107.50px;top:379.00px;font-size:2.6px;line-height:3.120px;color:#bbb;font-weight:normal;">流程名称</div>
<div style="left:1142.60px;top:377.90px;width:1.80px;height:1.80px;background:transparent;border-right:0.5px solid #bbb;border-bottom:0.5px solid #bbb;transform:rotate(45deg);"></div>
<div style="left:1148.50px;top:376.30px;width:50.50px;height:6.20px;background:#fff;border:0.5px solid #ebebeb;border-radius:0.6px;"></div>
<div class="t" style="left:1151.00px;top:379.00px;font-size:2.6px;line-height:3.120px;color:#bbb;font-weight:normal;">状态</div>
<div style="left:1195.10px;top:377.90px;width:1.80px;height:1.80px;background:transparent;border-right:0.5px solid #bbb;border-bottom:0.5px solid #bbb;transform:rotate(45deg);"></div>
<div style="left:862.50px;top:384.30px;width:336.70px;height:8.10px;background:#06a8a4;"></div>
<div style="left:873.25px;top:384.30px;width:0.50px;height:8.10px;background:rgba(255,255,255,0.22);"></div>
<div style="left:928.05px;top:384.30px;width:0.50px;height:8.10px;background:rgba(255,255,255,0.22);"></div>
<div style="left:982.45px;top:384.30px;width:0.50px;height:8.10px;background:rgba(255,255,255,0.22);"></div>
<div style="left:1036.45px;top:384.30px;width:0.50px;height:8.10px;background:rgba(255,255,255,0.22);"></div>
<div style="left:1090.55px;top:384.30px;width:0.50px;height:8.10px;background:rgba(255,255,255,0.22);"></div>
<div style="left:1144.75px;top:384.30px;width:0.50px;height:8.10px;background:rgba(255,255,255,0.22);"></div>
<div style="left:866.70px;top:387.05px;width:2.60px;height:2.60px;background:#fff;border:0.5px solid #fff;"></div>
<div class="t" style="left:875.70px;top:388.00px;font-size:2.6px;line-height:3.120px;color:#fff;font-weight:bold;">流程名称</div>
<div class="t" style="left:930.50px;top:388.00px;font-size:2.6px;line-height:3.120px;color:#fff;font-weight:bold;">单号</div>
<div class="t" style="left:984.90px;top:388.00px;font-size:2.6px;line-height:3.120px;color:#fff;font-weight:bold;">计划名称</div>
<div class="t" style="left:1038.90px;top:388.00px;font-size:2.6px;line-height:3.120px;color:#fff;font-weight:bold;">计划生效日期</div>
<div class="t" style="left:1093.00px;top:388.00px;font-size:2.6px;line-height:3.120px;color:#fff;font-weight:bold;">计划截至日期</div>
<div class="t" style="left:1147.20px;top:388.00px;font-size:2.6px;line-height:3.120px;color:#fff;font-weight:bold;">状态</div>
<div style="left:862.50px;top:400.45px;width:336.70px;height:0.45px;background:#f1f1f1;"></div>
<div style="left:873.30px;top:392.40px;width:0.40px;height:8.40px;background:#f5f5f5;"></div>
<div style="left:928.10px;top:392.40px;width:0.40px;height:8.40px;background:#f5f5f5;"></div>
<div style="left:982.50px;top:392.40px;width:0.40px;height:8.40px;background:#f5f5f5;"></div>
<div style="left:1036.50px;top:392.40px;width:0.40px;height:8.40px;background:#f5f5f5;"></div>
<div style="left:1090.60px;top:392.40px;width:0.40px;height:8.40px;background:#f5f5f5;"></div>
<div style="left:1144.80px;top:392.40px;width:0.40px;height:8.40px;background:#f5f5f5;"></div>
<div style="left:866.40px;top:395.00px;width:3.20px;height:3.20px;background:#f2f2f2;border:0.5px solid #d6d6d6;"></div>
<div class="t" style="left:875.70px;top:396.00px;font-size:2.6px;line-height:3.120px;color:#444;font-weight:normal;">审核流</div>
<div class="t" style="left:930.50px;top:396.00px;font-size:2.6px;line-height:3.120px;color:#777;font-weight:normal;">1</div>
<div class="t" style="left:984.90px;top:396.00px;font-size:2.6px;line-height:3.120px;color:#555;font-weight:normal;">回护器</div>
<div class="t" style="left:1038.90px;top:396.00px;font-size:2.6px;line-height:3.120px;color:#777;font-weight:normal;">2023-10-12</div>
<div class="t" style="left:1093.00px;top:396.00px;font-size:2.6px;line-height:3.120px;color:#777;font-weight:normal;">2023-10-13</div>
<div class="t" style="left:1147.20px;top:396.00px;font-size:2.6px;line-height:3.120px;color:#444;font-weight:normal;">未审核</div>
<div style="left:862.50px;top:408.85px;width:336.70px;height:0.45px;background:#f1f1f1;"></div>
<div style="left:873.30px;top:400.80px;width:0.40px;height:8.40px;background:#f5f5f5;"></div>
<div style="left:928.10px;top:400.80px;width:0.40px;height:8.40px;background:#f5f5f5;"></div>
<div style="left:982.50px;top:400.80px;width:0.40px;height:8.40px;background:#f5f5f5;"></div>
<div style="left:1036.50px;top:400.80px;width:0.40px;height:8.40px;background:#f5f5f5;"></div>
<div style="left:1090.60px;top:400.80px;width:0.40px;height:8.40px;background:#f5f5f5;"></div>
<div style="left:1144.80px;top:400.80px;width:0.40px;height:8.40px;background:#f5f5f5;"></div>
<div style="left:866.40px;top:403.40px;width:3.20px;height:3.20px;background:#f2f2f2;border:0.5px solid #d6d6d6;"></div>
<div class="t" style="left:875.70px;top:404.00px;font-size:2.6px;line-height:3.120px;color:#444;font-weight:normal;">审核流</div>
<div class="t" style="left:930.50px;top:404.00px;font-size:2.6px;line-height:3.120px;color:#777;font-weight:normal;">1010001</div>
<div class="t" style="left:984.90px;top:404.00px;font-size:2.6px;line-height:3.120px;color:#555;font-weight:normal;">水泵维保计划</div>
<div class="t" style="left:1038.90px;top:404.00px;font-size:2.6px;line-height:3.120px;color:#777;font-weight:normal;">2023-10-01</div>
<div class="t" style="left:1093.00px;top:404.00px;font-size:2.6px;line-height:3.120px;color:#777;font-weight:normal;">2023-10-21</div>
<div class="t" style="left:1147.20px;top:404.00px;font-size:2.6px;line-height:3.120px;color:#444;font-weight:normal;">已审核</div>
<div style="left:862.30px;top:384.30px;width:0.45px;height:24.90px;background:#f2f2f2;"></div>
<div style="left:1198.95px;top:384.30px;width:0.45px;height:24.90px;background:#f2f2f2;"></div>
<div class="t" style="left:1116.00px;top:538.00px;font-size:2.6px;line-height:3.120px;color:#666;font-weight:normal;">共 2 条</div>
<div style="left:1128.50px;top:535.50px;width:20.50px;height:5.60px;background:#fff;border:0.5px solid #ebebeb;border-radius:0.6px;"></div>
<div class="t" style="left:1131.00px;top:538.00px;font-size:2.6px;line-height:3.120px;color:#777;font-weight:normal;">10条/页</div>
<div class="t" style="left:1154.00px;top:538.00px;font-size:3.3800000000000003px;line-height:4.056px;color:#bbb;font-weight:normal;">‹</div>
<div class="t" style="left:1162.30px;top:538.00px;font-size:2.6px;line-height:3.120px;color:#06a8a4;font-weight:bold;">1</div>
<div class="t" style="left:1170.50px;top:538.00px;font-size:3.3800000000000003px;line-height:4.056px;color:#bbb;font-weight:normal;">›</div>
<div class="t" style="left:1178.50px;top:538.00px;font-size:2.6px;line-height:3.120px;color:#666;font-weight:normal;">前往</div>
<div style="left:1185.00px;top:535.50px;width:10.00px;height:5.60px;background:#fff;border:0.5px solid #ebebeb;border-radius:0.6px;"></div>
<div class="t" style="left:1189.20px;top:538.00px;font-size:2.6px;line-height:3.120px;color:#666;font-weight:normal;">1</div>
<div class="t" style="left:1196.50px;top:538.00px;font-size:2.6px;line-height:3.120px;color:#666;font-weight:normal;">页</div>
</body></html>
